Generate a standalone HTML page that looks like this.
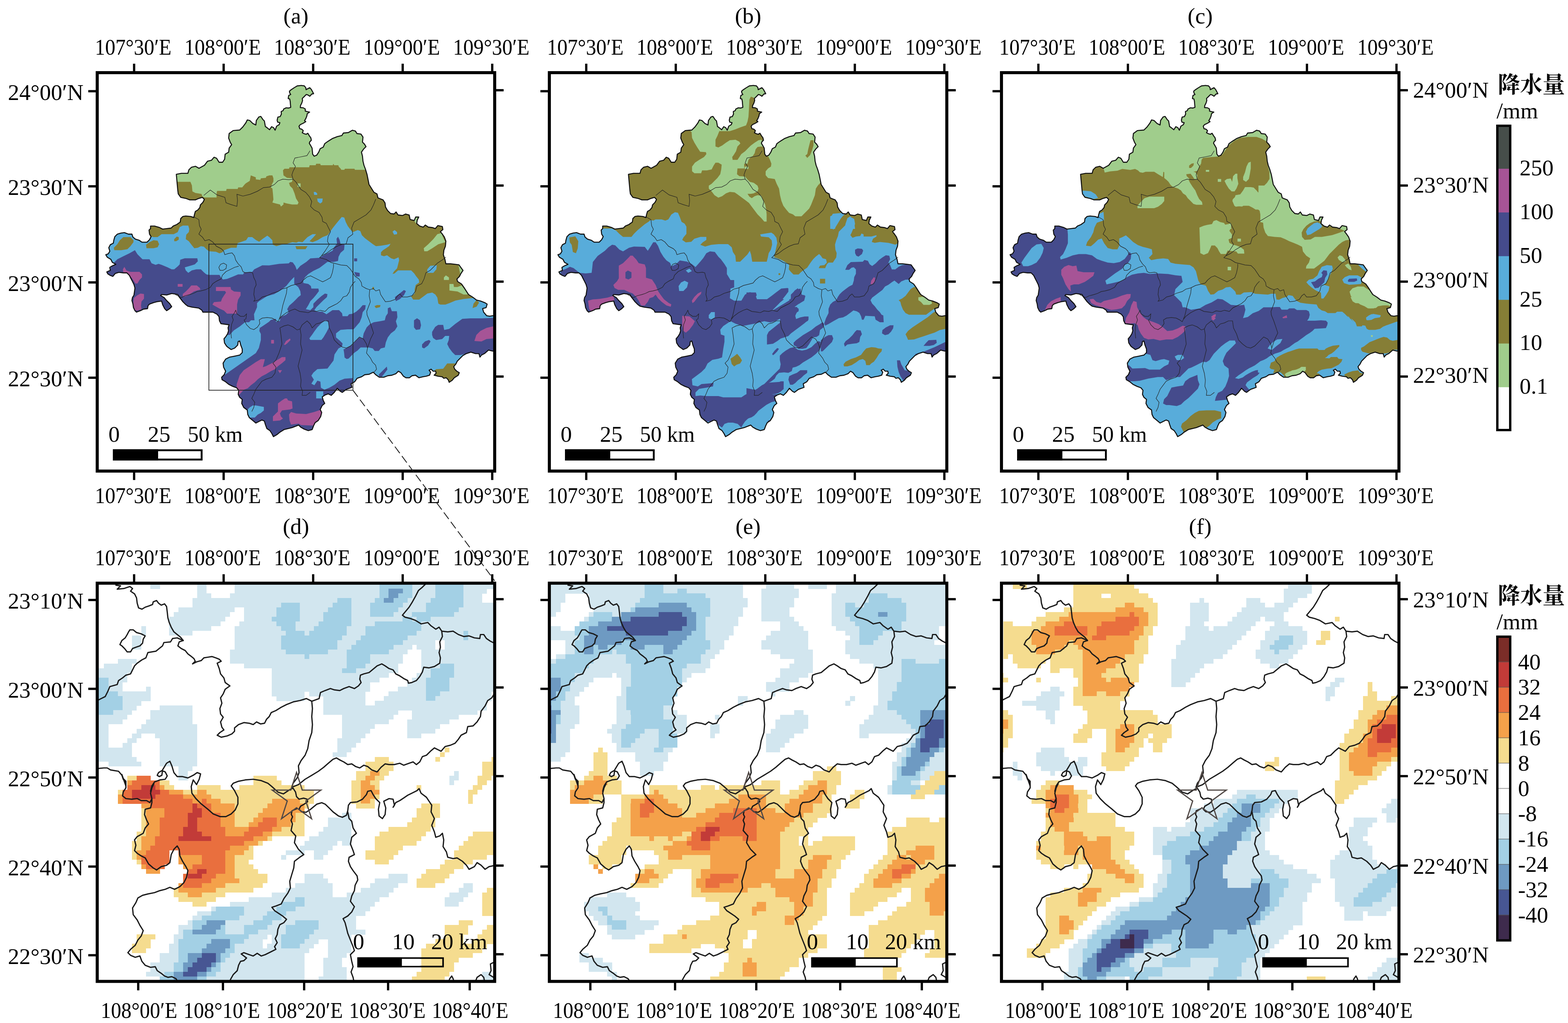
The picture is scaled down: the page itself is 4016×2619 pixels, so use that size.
<!DOCTYPE html><html><head><meta charset="utf-8"><title>fig</title><style>html,body{margin:0;padding:0;background:#fff}</style></head><body><svg width="4016" height="2619" viewBox="0 0 4016 2619" style="display:block;font-family:'Liberation Serif',serif;font-size:58px" fill="#000">
<style>.a{stroke:#D2E6EF}.b{stroke:#A3D0E5}.c{stroke:#6E9AC2}.d{stroke:#475693}.e{stroke:#3E2B4D}.f{stroke:#F5DC8F}.g{stroke:#F4A14A}.h{stroke:#E96F3E}.i{stroke:#C23B38}</style>
<rect width="4016" height="2619" fill="#fff"/>
<defs>
<path id="o" transform="scale(.1)" d="M2062,3000 2075,3103 2139,3193 2268,3219 2371,3258 2513,3258 2603,3219 2693,3193 2745,3245 2706,3322 2642,3387 2629,3451 2577,3515 2513,3554 2487,3644 2474,3709 2397,3683 2268,3670 2191,3683 2139,3735 2126,3825 2036,3889 1946,3928 1894,3979 1778,3992 1675,4005 1598,3966 1469,3928 1366,3928 1366,3992 1327,4031 1340,4134 1379,4198 1340,4276 1276,4340 1147,4340 1070,4289 979,4263 915,4211 889,4134 799,4134 696,4095 606,4108 515,4134 451,4198 425,4289 412,4366 335,4405 296,4482 322,4572 284,4637 219,4662 258,4727 348,4778 387,4856 477,4907 387,4946 322,4985 335,5062 245,5101 271,5152 335,5191 399,5216 464,5139 554,5113 670,5126 760,5126 825,5191 863,5268 902,5345 941,5423 966,5513 954,5603 941,5693 902,5758 889,5835 915,5925 928,6015 966,6093 1005,6131 1108,6093 1186,6054 1289,6041 1302,5964 1340,5925 1443,5887 1546,5861 1649,5848 1675,5938 1727,6041 1778,6093 1856,6041 1907,5990 1856,5912 1778,5835 1714,5758 1624,5706 1649,5680 1778,5693 1907,5655 1997,5668 2062,5680 2101,5745 2152,5809 2191,5861 2268,5938 2320,5977 2423,6003 2513,6015 2603,6028 2680,6080 2706,6131 2835,6131 2964,6131 3067,6183 3119,6247 3131,6351 3170,6428 3273,6441 3376,6454 3351,6531 3363,6608 3338,6686 3299,6750 3247,6814 3260,6918 3312,7000 3340,7025 3430,7089 3521,7051 3598,6973 3611,6883 3649,6870 3675,6973 3714,7076 3714,7166 3649,7231 3521,7257 3392,7282 3289,7334 3224,7437 3237,7540 3289,7643 3250,7734 3186,7798 3198,7862 3289,7914 3366,7978 3469,8030 3572,8069 3624,8133 3611,8236 3649,8313 3714,8365 3701,8468 3753,8571 3843,8636 3856,8752 3894,8829 3985,8906 4062,8971 4139,8932 4216,8893 4281,8919 4307,9009 4345,9112 4423,9164 4474,9241 4513,9319 4603,9267 4680,9203 4784,9138 4887,9112 4990,9087 5093,9048 5157,9022 5209,9074 5299,9125 5402,9164 5505,9138 5544,9035 5582,8958 5660,8906 5724,8803 5750,8700 5711,8623 5763,8520 5827,8468 5789,8391 5763,8301 5840,8249 5918,8223 5995,8262 6072,8185 6149,8081 6227,8159 6278,8185 6381,8107 6459,8081 6523,8056 6503,7965 6593,7914 6657,7824 6773,7785 6851,7734 6966,7721 7070,7669 7134,7734 7224,7798 7340,7798 7443,7759 7546,7746 7649,7708 7714,7643 7778,7682 7843,7772 7907,7811 7997,7811 8062,7759 8152,7746 8242,7811 8345,7785 8423,7772 8513,7746 8539,7669 8500,7618 8552,7592 8603,7643 8668,7643 8680,7695 8629,7746 8732,7772 8835,7785 8874,7824 8938,7811 8990,7862 9015,7927 9093,7875 9144,7811 9247,7746 9273,7682 9209,7643 9157,7592 9131,7527 9183,7463 9222,7386 9299,7308 9363,7244 9454,7192 9570,7154 9686,7192 9776,7192 9802,7282 9840,7231 9918,7192 10021,7102 10124,7128 10381,7128 10412,6222 10129,6222 10052,6235 9974,6222 9897,6131 9871,6041 9961,6015 9987,5925 9923,5887 9820,5848 9716,5822 9613,5745 9510,5680 9459,5603 9394,5500 9330,5410 9227,5345 9214,5281 9278,5216 9317,5139 9369,5062 9330,5010 9265,4920 9175,4907 9046,4894 8930,4894 8905,4778 8866,4662 8879,4546 8918,4443 8930,4314 8892,4211 8840,4134 8789,4070 8853,4018 8840,3941 8724,3915 8660,3992 8582,3966 8479,3954 8402,3902 8351,3954 8260,3928 8183,3863 8196,3773 8235,3696 8157,3696 8119,3786 8015,3760 7990,3644 7899,3619 7822,3657 7706,3644 7655,3567 7603,3619 7513,3606 7436,3528 7384,3438 7371,3335 7320,3258 7191,3206 7165,3103 7088,3064 6961,2861 6936,2732 6910,2603 6871,2474 6832,2371 6807,2268 6794,2139 6768,2036 6820,1959 6884,1894 6845,1830 6794,1778 6807,1649 6755,1572 6652,1559 6613,1495 6536,1474 6433,1534 6304,1546 6265,1611 6149,1637 6021,1688 5918,1753 5827,1817 5789,1907 5711,1946 5673,2036 5621,2113 5557,2139 5518,2088 5503,1931 5471,1873 5432,1809 5445,1770 5484,1731 5471,1667 5432,1615 5394,1551 5355,1577 5304,1564 5252,1538 5278,1486 5239,1448 5188,1435 5168,1370 5201,1332 5278,1293 5342,1254 5310,1229 5342,1177 5368,1113 5381,1048 5439,1010 5381,997 5329,984 5329,932 5278,900 5201,894 5207,842 5239,778 5259,713 5252,662 5304,610 5355,559 5394,571 5445,604 5497,546 5542,539 5516,488 5484,430 5445,385 5394,410 5349,436 5342,385 5304,339 5226,327 5123,339 5046,385 4969,436 4923,475 4930,520 4956,559 4904,584 4891,662 4930,675 4943,739 4949,816 4956,887 4904,906 4840,900 4775,932 4762,971 4711,997 4717,1061 4685,1126 4627,1138 4608,1216 4621,1267 4679,1280 4659,1332 4595,1370 4556,1474 4518,1409 4466,1383 4414,1461 4350,1409 4307,1379 4281,1237 4242,1198 4191,1121 4139,1134 4075,1224 4062,1340 3985,1302 3907,1224 3843,1211 3804,1289 3727,1392 3649,1469 3482,1482 3379,1559 3366,1675 3405,1778 3443,1843 3379,1933 3366,2036 3276,2088 3263,2216 3211,2294 3121,2294 3057,2191 2992,2165 2928,2242 2825,2268 2747,2371 2606,2448 2515,2397 2412,2423 2348,2487 2322,2577 2155,2577 2026,2603Z"/>
<clipPath id="ol"><use href="#o"/></clipPath>
<g id="ct" transform="scale(.1)" fill="none" stroke="#222" stroke-width="12">
<path d="M2727,3144 2897,3005 3067,3129 3268,3191 3299,3330 3423,3376 3578,3423 3593,3268 3578,3114 3732,3160 3918,3114 4103,3036 4258,2943 4413,2928 4536,2866 4629,2773 4753,2727 4908,2742 5016,2727 5093,2804 5155,2897 5217,2990 5341,3067 5433,3175 5495,3299 5464,3423 5557,3516 5681,3578 5758,3701 5774,3810 5867,3856 5928,3980 5975,4072 5913,4196 5897,4320 5944,4397 5836,4567 5743,4691 5696,4738 5867,4784 5990,4861 6114,4892 6238,4923 6392,4939 6485,5031 6547,5124 6609,5217 6702,5279 6764,5372 6779,5464 6887,5526 6980,5557 7073,5526 7135,5588 7228,5557 7259,5681 7320,5774 7382,5867 7506,5851 7630,5805 7692,5712 7753,5665 7815,5743 7939,5743 8063,5712 8156,5588 8186,5464 8310,5403 8372,5279 8418,5124 8527,5062 8620,4970 8712,4877 8852,4784 8929,4722"/>
<path d="M5449,2000 5372,2124 5217,2155 5062,2186 5016,2309 5078,2402 5016,2526 4985,2619 5016,2727"/>
<path d="M5743,4691 5867,4629 5990,4536 6145,4444 6269,4397 6377,4382 6423,4227 6547,4134 6516,3980 6578,3825 6733,3732 6887,3639 7011,3516 7073,3392 7135,3237"/>
<path d="M2464,3686 2603,3763 2619,3918 2665,4011 2603,4134 2696,4212 2758,4304 2866,4274 2959,4335 3052,4444 3175,4506 3237,4567 3268,4660 3361,4629 3454,4614 3516,4691 3547,4799 3608,4892 3686,4970 3732,5093 3794,5124 3918,5109 3980,5124 4011,5248 4057,5341 4072,5433 4026,5526 4011,5681 4042,5805 4011,5851 4134,5820 4227,5743 4351,5712 4475,5650 4629,5604 4722,5542 4846,5511 4970,5449 5093,5418 5217,5387 5279,5310 5372,5232 5464,5202 5557,5248 5681,5310 5774,5356 5867,5310 5975,5248 6021,5124 6052,4970 6052,4892"/>
<path d="M3624,4954 3516,4985 3392,5047 3299,5093 3206,5186 3175,5279 3052,5341 2959,5403 2897,5495 2773,5557 2650,5588 2557,5604 2464,5650 2371,5681 2247,5712 2155,5758 2062,5712 2000,5681"/>
<path d="M3114,4985 3160,4908 3237,4877 3315,4923 3299,5016 3222,5062 3144,5062 3114,4985"/>
<path d="M4861,5511 4846,5650 4799,5805 4753,5959 4722,6114 4691,6238 4660,6300"/>
<path d="M3438,6801 3423,6640 3438,6454 3485,6331 3454,6238 3516,6145 3547,6083 3578,6176 3670,6238 3763,6238 3825,6176 3810,6300 3763,6331 3825,6454 3918,6547 4011,6578 4103,6516 4165,6423 4150,6331 4227,6284 4351,6269 4475,6284 4567,6331 4629,6377 4660,6315 4722,6238 4846,6145 4970,6083 5062,6052 5186,6114 5310,6129 5403,6145 5495,6099 5619,6114 5712,6083 5836,6114 5928,6021 6052,5959 6145,5913 6238,5836 6300,5743 6392,5712 6454,5619 6485,5495 6547,5403 6609,5341"/>
<path d="M6980,5557 6965,5712 6996,5867 6949,5990 6903,6114 6912,6201"/>
<path d="M3959,8674 4010,8571 4036,8442 3959,8339 4010,8236 4062,8107 4139,8004 4216,7901 4320,7849 4474,7798 4552,7695 4577,7540 4500,7437 4577,7360 4655,7179 4732,6947 4706,6715 4680,6535 4784,6484 4887,6458 5015,6509 5119,6587 5196,6561 5247,6458 5376,6355 5454,6432 5505,6535 5608,6432 5711,6406 5814,6355 5918,6355 5943,6535 6021,6690 6072,6844 6175,6947 6278,7025 6381,7051 6485,6999 6588,6896 6716,6767 6820,6819 6897,6947 6923,7051"/>
<path d="M5196,6561 5222,6715 5209,6947 5247,7102 5196,7308 5144,7514 5196,7695 5222,7875 5209,8030 5260,8159 5247,8262 5351,8262 5454,8185"/>
<path d="M6910,6200 6974,6355 7026,6509 7077,6664 7000,6819 6923,7051 6897,7179 7000,7308 7052,7411 7129,7489 7155,7592 7090,7669"/>
</g>
<g id="bd" transform="scale(.1)" fill="none" stroke="#1a1a1a" stroke-width="32" stroke-linejoin="round" stroke-linecap="round">
<path d="M478,51 598,68 512,154 683,137 837,85 905,137 854,205 956,273 1007,376 1024,512 1059,632 1144,666 1229,615 1332,581 1417,546 1434,478 1520,444 1571,512 1639,563 1725,529 1776,598 1793,734 1810,888 1844,1007 1895,1127 1964,1246 2049,1315 2134,1383 2203,1468 2100,1503 2066,1605 2151,1673 2254,1725 2322,1810 2390,1861 2476,1929 2510,1998 2442,2066 2544,2015 2664,1981 2732,1912 2834,1895 2937,1878 3039,1912 3125,1947 3176,1998 3073,2049 3125,2186 3159,2322 3244,2425 3278,2544 3398,2630 3278,2715 3227,2834 3159,2937 3193,3073 3142,3210 3159,3347 3227,3432 3159,3552 3193,3688 3244,3756 3142,3825 3073,3893 3176,3944 3330,3910 3449,3859 3517,3791 3517,3705 3620,3620 3756,3569 3893,3586 3995,3620 4081,3552 4183,3603 4286,3586 4337,3483 4405,3415 4457,3312 4576,3261 4713,3176 4849,3108 5020,3039 5191,3005 5358,2954 5495,3022"/>
<path d="M2203,1468 2049,1400 1929,1417 1878,1503 1707,1520 1673,1605 1588,1673 1503,1742 1298,1776 1246,1912 1144,1964 1024,2049 956,2117 905,2220 854,2322 734,2356 649,2425 546,2493 512,2595 324,2647 273,2766 205,2903 102,2954 00,3005"/>
<path d="M837,1195 922,1195 1007,1264 1127,1298 1229,1349 1178,1434 1161,1537 1093,1605 990,1639 905,1673 854,1759 768,1759 700,1673 632,1605 581,1571 632,1468 717,1400 768,1315 803,1246 837,1195"/>
<path d="M00,4747 171,4730 256,4730 341,4781 444,4798 546,4815 632,4918 666,5020 717,5088 734,5191 632,4900 666,5002 734,5071 734,5241 666,5344 649,5446 734,5515 888,5532 1024,5515 1127,5566 1264,5566 1349,5617 1400,5515 1366,5378 1400,5241 1451,5139 1400,5241 1366,5378 1400,5515 1400,5617 1366,5754 1229,5788 1212,5924 1264,6061 1315,6164 1229,6266 1178,6403 1024,6488 956,6573 990,6710 956,6847 1024,6915 1127,6983 1229,7034 1315,7188 1434,7290 1520,7342 1639,7256 1776,7222 1861,7154 1895,6949 1964,6812 2049,6727 2100,6812 2117,6983 2186,7120 2271,7256 2322,7359 2288,7530 2220,7666 2117,7769 1981,7837 1861,7786 1742,7837 1605,7871 1468,7922 1298,7956 1161,7991 1042,8059 990,8178 905,8315 922,8486 1024,8622 1093,8759 1178,8895 1127,9032 1042,9135 973,9271 854,9374 785,9459 854,9527 973,9578 1093,9544 1144,9681 1229,9783 1366,9835 1486,9818 1537,9920 1639,9988 1725,10057 1810,10091 1912,10074 2015,10125 2083,10227"/>
<path d="M1366,5327 1400,5191 1468,5088 1605,5037 1742,5020 1793,4935 1742,4832 1656,4798 1571,4849 1537,4918 1588,4952 1656,4918 1673,4781 1776,4610 1861,4559 1912,4678 1964,4849 2049,4952 2186,4952 2322,4986 2459,4918 2561,4849 2647,4883 2612,5020 2544,5157 2459,5037 2408,5207 2425,5378 2527,5515 2664,5651 2834,5788 2971,5907 3142,5976 3295,5976 3432,5907 3534,5805 3603,5651 3603,5481 3517,5310 3432,5190 3483,5122 3620,5071 3791,5037 3995,5020 4200,5054 4371,5122 4474,5207 4629,5349 4770,5394 4912,5298 5015,5246 5080,5349 5105,5465 5170,5530 5286,5504 5376,5530 5389,5594 5299,5659 5208,5710 5170,5788 5234,5852 5350,5865 5466,5788 5621,5659 5750,5620 5840,5659 5939,5754 6041,5856 6178,5959 6280,5993 6383,5942 6417,5822 6434,5685 6485,5617 6656,5600 6792,5532 6895,5412 6929,5327 7014,5310 7066,5412 7134,5515 7236,5617 7202,5788 7219,5959 7305,6027 7373,5924 7390,5754 7339,5583 7475,5515 7578,5532 7612,5685 7578,5737 7646,5617 7749,5566 7851,5498 7953,5429 8090,5361 8192,5310 8244,5259 8295,5378 8432,5481 8500,5583 8568,5685 8551,5856 8636,6027 8568,6198 8636,6368 8671,6505 8773,6471 8841,6403 8875,6573 8858,6744 8944,6881 8978,7017 9115,7051 9217,7034 9354,7120 9456,7222 9524,7325 9661,7256 9729,7154 9832,7222 9934,7325 10037,7256 10207,7222"/>
<path d="M4982,5225 5017,5122 5119,4986 5170,4849 5153,4678 5221,4542 5324,4405 5392,4235 5426,4030 5495,3825 5512,3620 5495,3415 5512,3210 5495,3022 5683,2954 5717,2800 5836,2749 5973,2698 6075,2732 6212,2749 6314,2698 6451,2647 6587,2698 6690,2630 6758,2544 6724,2459 6741,2356 6827,2322 6963,2288 7066,2203 7168,2117 7288,2066 7373,2117 7475,2186 7578,2220 7646,2322 7749,2373 7851,2442 7953,2493 7971,2561 8056,2544 8175,2493 8261,2390 8329,2271 8363,2151 8500,2168 8636,2134 8773,2049 8790,1912 8756,1776 8790,1639 8773,1503 8841,1366 8824,1229"/>
<path d="M8432,00 8329,102 8227,188 8158,324 8073,478 7988,615 7902,717 7817,820 7885,871 8022,905 8158,956 8295,1042 8466,1007 8551,1093 8671,1178 8756,1127 8824,1229 8978,1246 9115,1229 9251,1315 9388,1366 9524,1349 9661,1400 9798,1417 9815,1315 9900,1315 9968,1417 10071,1486 10207,1554"/>
<path d="M4982,5225 5153,5157 5324,5020 5495,4918 5665,4815 5802,4713 5939,4593 6041,4508 6126,4474 6212,4525 6314,4576 6417,4644 6519,4627 6622,4696 6724,4730 6827,4661 6929,4696 7031,4781 7168,4832 7270,4713 7373,4627 7475,4644 7612,4644 7749,4610 7851,4661 7988,4610 8090,4576 8175,4644 8261,4576 8329,4439 8432,4405 8534,4303 8636,4217 8739,4269 8807,4303 8910,4183 9046,4149 9166,4098 9251,3995 9319,3893 9456,3825 9490,3671 9627,3654 9729,3552 9815,3415 9832,3278 9934,3142 10002,3005 10105,2937 10207,2766"/>
<path d="M5105,5775 4989,5826 4970,5916 5002,5981 4964,6071 5000,6164 4965,6334 5085,6471 5051,6642 5153,6812 5290,6949 5187,7017 5051,7120 5034,7290 4982,7461 4931,7632 4948,7803 4880,7939 4781,8076 4713,8212 4576,8264 4474,8298 4542,8383 4644,8452 4747,8520 4849,8605 4781,8691 4678,8742 4627,8861 4610,8998 4559,9100 4610,9203 4542,9305 4576,9374 4439,9442 4303,9510 4200,9544 4098,9476 3995,9544 3893,9510 3756,9459 3688,9493 3825,9596 3756,9664 3671,9681 3620,9783 3586,9920 3483,10022 3415,10142 3381,10261"/>
<path d="M6417,5856 6451,6027 6519,6095 6553,6266 6639,6403 6519,6505 6485,6676 6553,6847 6587,6949 6451,7017 6434,7120 6485,7256 6553,7359 6656,7495 6673,7598 6605,7734 6587,7871 6519,8008 6485,8144 6587,8281 6519,8417 6417,8520 6297,8588 6348,8691 6383,8827 6417,8964 6485,9135 6553,9305 6587,9408 6485,9510 6519,9681 6553,9818 6502,9954 6553,10091 6587,10261"/>
<path d="M8978,10261 9029,10125 9080,10057 9115,10125 9149,10261"/>
<path d="M9661,10261 9729,10091 9832,10022 9900,10091 9934,10261"/>
<path d="M10207,9681 10071,9749 10088,9920 10037,10022 10207,10125"/>
</g>
</defs>
<g clip-path="url(#cp0)">
<clipPath id="cp0"><rect x="249" y="186" width="1018" height="1020"/></clipPath>
<g transform="translate(249,186)">
<g clip-path="url(#ol)">
<rect x="0" y="0" width="1018" height="1020" fill="#58ACDA"/>
<g transform="scale(.1)">
<path d="M335,5036 387,4907 515,4778 670,4701 825,4624 966,4546 1031,4649 1134,4753 1160,4778 1340,4778 1392,4881 1495,4920 1572,4894 1649,4920 1804,4985 1907,5036 1972,5036 2062,4959 2113,4907 2126,4791 2242,4753 2564,4753 2577,4830 2500,4907 2423,4933 2242,4985 2268,5062 2332,5126 2423,5062 2539,5036 2655,5036 2732,5113 2796,5165 2861,5178 3131,5178 3170,5242 3222,5294 3325,5281 3454,5229 3608,5165 3737,5165 3763,5113 3969,5101 4021,5036 4124,4985 4227,4933 4402,4935 4660,4896 4905,4883 4943,4844 5008,4857 5072,4947 5111,5051 5201,4947 5356,4844 5459,4754 5691,4741 5871,4638 6026,4561 6077,4458 6142,4380 6129,4252 6168,4200 6206,4277 6232,4380 6335,4406 6322,4535 6232,4612 6180,4715 6168,4819 6052,4844 5897,4844 5794,4922 5691,4999 5536,5076 5407,5154 5330,5231 5278,5308 5278,5386 5407,5411 5472,5463 5485,5527 5665,5527 5678,5592 5601,5695 5536,5772 5459,5849 5407,5953 5343,6056 5459,6081 5536,6004 5536,5914 5639,5811 5742,5721 5832,5656 5897,5669 5884,5746 5794,5824 5691,5927 5613,6004 5562,6081 5639,6120 5768,6120 5871,6185 5948,6133 6026,6081 6193,6081 6271,6159 6284,6236 6412,6236 6451,6185 6541,6172 6631,6120 6722,6043 6799,5953 6876,5953 6863,6056 6799,6133 6773,6262 6722,6391 6631,6494 6567,6571 6554,6777 6541,6958 6631,6855 6709,6777 6799,6803 6825,6674 6902,6520 6979,6442 7082,6391 7237,6365 7366,6339 7392,6236 7443,6159 7443,6030 7508,6004 7546,6107 7675,6107 7688,6262 7649,6365 7688,6494 7624,6597 7521,6674 7443,6777 7392,6906 7366,7035 7263,7061 7211,7125 7108,7125 7057,7061 6954,7035 6851,7035 6747,7035 6670,7112 6593,7164 6515,7241 6438,7319 6387,7331 6335,7293 6322,7164 6309,7087 6271,7009 6180,7061 6077,7215 6052,7370 5974,7473 5897,7576 5639,7589 5536,7679 5485,7757 5549,7860 5485,7963 5562,8002 5639,7886 5716,7911 5729,8066 5820,8118 5948,8066 6077,7989 6206,7886 6335,7834 6541,7821 6554,7937 6554,8118 6554,8581 5000,11000 -1000,11000 -1000,3800Z" fill="#454B8C"/>
<path d="M5046,5231 4943,5334 4840,5463 4711,5566 4531,5669 4351,5721 4144,5849 4093,5901 4093,6004 4015,6185 4028,6339 3938,6339 3887,6391 3784,6391 3655,6494 3500,6597 3392,6715 3031,6715 3031,7746 3289,7721 3546,7540 3804,7360 4062,7179 4139,7051 4191,6844 4191,6690 4152,6612 4165,6535 4242,6484 4397,6380 4448,6329 4577,6303 4577,6380 4680,6355 4693,6252 4835,6200 4905,6133 4866,6056 4918,5965 5021,5875 5072,5824 5149,5746 5214,5695 5201,5592 5149,5489 5046,5411Z" fill="#58ACDA"/>
<path d="M5845,6339 5923,6391 5936,6520 5871,6648 5794,6777 5742,6842 5459,6842 5433,6803 5510,6700 5562,6623 5639,6520 5742,6416Z" fill="#58ACDA"/>
<path d="M6232,6584 6412,6571 6567,6571 6554,6777 6541,6958 6412,7035 6309,7087 6271,7009 6284,6932 6206,6855 6116,6777 6116,6674Z" fill="#58ACDA"/>
<path d="M3843,8636 3907,8571 3985,8520 4062,8520 4268,8558 4268,8648 4191,8713 4113,8752 4036,8829 3894,8829 3856,8752Z" fill="#58ACDA"/>
<path d="M5608,8159 5789,8159 5789,8339 5608,8339Z" fill="#58ACDA"/>
<path d="M6580,4754 6657,4754 6657,4831 6580,4831Z" fill="#454B8C"/>
<path d="M6580,5102 6722,5128 6722,5218 6631,5218Z" fill="#454B8C"/>
<path d="M7624,5746 7727,5669 7856,5566 7907,5592 7856,5695 7753,5798 7649,5849Z" fill="#454B8C"/>
<path d="M8320,6958 8397,6880 8500,6842 8539,6880 8474,6984 8371,7061 8320,7035Z" fill="#454B8C"/>
<path d="M7211,7731 7314,7628 7418,7525 7430,7602 7353,7705 7289,7782 7224,7782Z" fill="#454B8C"/>
<path d="M8113,6339 8191,6288 8268,6339 8294,6468 8268,6571 8165,6584 8113,6520Z" fill="#454B8C"/>
<path d="M8577,6638 8655,6509 8732,6458 8861,6458 8887,6587 9015,6561 9170,6432 9351,6303 9557,6290 9866,6290 10124,6277 10381,6277 10381,7231 10021,7102 9918,7192 9802,7231 9686,7192 9570,7154 9454,7192 9299,7231 9170,7231 9093,7154 9015,7051 8964,6947 9003,6844 9015,6741 8912,6741 8835,6819 8680,6844 8603,6793 8577,6715Z" fill="#454B8C"/>
<path d="M1379,4198 1443,4211 1546,4211 1649,4134 1804,4134 1959,4134 2062,4082 2113,3954 2191,3915 2332,3915 2358,4005 2345,4082 2281,4147 2268,4263 2345,4314 2423,4418 2487,4495 2577,4482 2655,4443 2732,4456 2796,4521 2861,4572 3041,4585 3131,4624 3209,4598 3247,4546 3351,4508 3428,4482 3570,4482 3595,4366 3814,4289 3866,4211 3969,4211 4072,4289 4149,4327 4227,4263 4356,4173 4407,4211 4485,4289 4497,4405 4588,4443 4716,4405 4820,4392 5000,4340 5103,4353 5155,4327 5258,4340 5387,4211 5515,4134 5606,4134 5541,4211 5438,4314 5515,4340 5644,4289 5773,4211 5902,4160 6031,3979 6134,3851 6263,3696 6327,3709 6366,3825 6418,3928 6495,4031 6546,4082 6675,4031 6740,4057 6778,4160 6856,4237 6959,4314 7062,4392 7139,4443 7268,4430 7423,4405 7513,4379 7474,4443 7397,4495 7320,4546 7268,4598 7268,4675 7345,4701 7423,4675 7526,4753 7603,4778 7719,4727 7732,4804 7706,4907 7680,5010 7603,5088 7564,5152 7616,5139 7706,5062 7835,5062 8041,5062 8119,5139 8170,5216 8235,5294 8247,5371 8157,5436 8131,5539 8131,5655 8041,5732 8093,5809 8247,5809 8351,5732 8454,5655 8582,5629 8660,5680 8711,5758 8737,5912 8789,5938 8918,5938 9021,5899 9175,5835 9381,5796 9613,5771 10155,5771 11000,3000 11000,-1000 -1000,-1000 -1000,3600Z" fill="#867E36"/>
<path d="M425,4482 515,4392 580,4289 670,4211 851,4211 928,4289 928,4340 851,4443 773,4521 619,4546 438,4546Z" fill="#867E36"/>
<path d="M1250,4405 1340,4340 1443,4289 1546,4302 1585,4392 1546,4469 1443,4495 1263,4495Z" fill="#867E36"/>
<path d="M1972,4263 2036,4198 2088,4211 2088,4276 2023,4314 1972,4314Z" fill="#867E36"/>
<path d="M5077,4443 5387,4443 5335,4521 5103,4521Z" fill="#867E36"/>
<path d="M9716,5822 9781,5887 9716,5990 9613,6028 9639,5912Z" fill="#867E36"/>
<path d="M7101,5977 7165,5951 7255,5951 7242,6003 7139,6028Z" fill="#867E36"/>
<path d="M7049,5487 7088,5487 7088,5552 7049,5552Z" fill="#867E36"/>
<path d="M8448,7772 8680,7592 8861,7579 8964,7445 9196,7445 9351,7746 9041,7953 8835,7824Z" fill="#867E36"/>
<path d="M1871,2796 2077,2796 2387,2796 2425,2887 2438,3041 2515,3080 2670,3106 2696,3170 2747,3196 3057,3196 3057,3093 3070,3028 3302,3028 3314,2977 3598,2977 3611,2938 3714,2938 3778,2861 3804,2835 3907,2771 3933,2629 4062,2680 4062,2732 4178,2745 4191,2706 4320,2693 4332,2655 4410,2629 4487,2629 4513,2706 4513,2784 4474,2861 4448,2938 4487,2964 4500,3093 4513,3247 4487,3325 4577,3351 4680,3376 4706,3428 4771,3376 4771,3325 4861,3351 4990,3376 5131,3376 5157,3325 5093,3222 5054,3093 5003,2964 4938,2899 4912,2822 4990,2796 5003,2706 4861,2693 4771,2629 4758,2500 4796,2461 4912,2461 4925,2423 5080,2423 5428,2423 5441,2371 5595,2371 5608,2332 5711,2332 5724,2371 6034,2371 6046,2332 6072,2371 6175,2371 6188,2410 6227,2448 6253,2487 6330,2487 6343,2461 6588,2461 6601,2487 6845,2487 7412,2487 11000,-1000 -1000,-1000Z" fill="#A0CD8C"/>
<path d="M8363,4495 8479,4392 8608,4263 8711,4134 8814,4108 8866,4237 8918,4340 8737,4392 8582,4495 8454,4572 8376,4572Z" fill="#A0CD8C"/>
<path d="M9021,5410 9124,5410 9137,5487 9227,5487 9330,5448 9433,5577 9497,5680 9381,5680 9227,5603 9021,5577Z" fill="#A0CD8C"/>
<path d="M8879,5242 8930,5191 9008,5242 9008,5307 8879,5307Z" fill="#A0CD8C"/>
<path d="M8015,3644 8247,3670 8247,3876 8157,3851Z" fill="#A0CD8C"/>
<path d="M8905,4134 9021,4237 9021,4405 8930,4405Z" fill="#A0CD8C"/>
<path d="M9253,4933 9420,5036 9381,5191 9304,5191Z" fill="#A0CD8C"/>
<path d="M5131,2835 5209,2835 5209,2925 5131,2925Z" fill="#A0CD8C"/>
<path d="M5544,3054 5595,3054 5634,3093 5634,3131 5557,3131Z" fill="#58ACDA"/>
<path d="M5634,3222 5776,3222 5763,3312 5711,3351 5647,3299Z" fill="#58ACDA"/>
<path d="M7564,4070 7616,4031 7680,4082 7680,4134 7603,4147Z" fill="#58ACDA"/>
<path d="M8454,5036 8531,4946 8698,4933 8686,5036 8608,5126 8454,5126Z" fill="#58ACDA"/>
<path d="M657,5036 696,4972 747,5062 851,5101 1082,5101 1147,5165 1147,5242 1082,5307 1031,5397 979,5397 928,5320 876,5242 773,5216 760,5126 670,5126Z" fill="#A65496"/>
<path d="M2062,5410 2186,5410 2186,5479 2062,5479Z" fill="#A65496"/>
<path d="M2191,5668 2268,5603 2345,5526 2410,5448 2552,5448 2629,5513 2642,5552 2552,5577 2474,5603 2397,5655 2320,5706 2242,5732 2191,5732Z" fill="#A65496"/>
<path d="M3041,5487 3415,5487 3428,5552 3505,5603 3673,5616 3673,5706 3608,5809 3582,5938 3582,6170 3325,6170 3247,6093 3131,6041 3041,5990 2951,5938 2990,5874 3170,5861 3196,5784 3247,5706 3299,5629 3273,5590 3041,5590Z" fill="#A65496"/>
<path d="M941,5771 1018,5706 1108,5655 1198,5668 1198,5784 1134,5861 1121,5964 1134,6054 1031,6093 966,6080 928,5964 928,5861Z" fill="#A65496"/>
<path d="M4454,6845 4523,6845 4523,6930 4454,6930Z" fill="#A65496"/>
<path d="M3572,7978 3649,7746 3753,7618 3907,7514 4062,7411 4191,7334 4294,7334 4268,7437 4242,7540 4320,7514 4474,7437 4603,7360 4732,7282 4822,7282 4822,7360 4732,7437 4629,7514 4552,7592 4448,7643 4320,7721 4216,7772 4113,7849 4036,7927 3933,8004 3856,8081 3753,8120 3649,8236 3611,8236 3624,8133 3572,8069Z" fill="#A65496"/>
<path d="M4784,6960 4835,6870 4938,6806 4951,6844 4861,6935 4809,6973Z" fill="#A65496"/>
<path d="M4461,6844 4526,6844 4526,6935 4461,6935Z" fill="#A65496"/>
<path d="M4629,7618 4732,7618 4680,7695Z" fill="#A65496"/>
<path d="M4629,8468 4732,8391 4809,8339 4861,8339 4887,8391 4990,8416 5003,8597 4938,8623 4732,8648 4680,8726 4706,8803 4758,8855 4680,8906 4500,8919 4500,8803 4577,8726 4629,8674Z" fill="#A65496"/>
<path d="M4912,8752 4964,8687 5093,8726 5351,8739 5557,8687 5711,8636 5750,8700 5724,8803 5660,8906 5582,8958 5544,9035 5222,9022 5157,8984 4964,9009 4925,8906Z" fill="#A65496"/>
<path d="M9660,6870 9711,6715 9814,6612 9969,6535 10142,6496 10381,6496 10381,6793 10142,6806 9969,6819 9840,6883Z" fill="#A65496"/>
</g>
</g>
<use href="#ct"/>
<use href="#o" fill="none" stroke="#111" stroke-width="26" stroke-linejoin="round"/>
</g><rect x="535" y="625" width="369" height="374" fill="none" stroke="#222" stroke-width="1.8"/>
</g>
<rect x="249" y="186" width="1018" height="1020" fill="none" stroke="#000" stroke-width="7.8"/>
<rect x="340.6" y="163.1" width="5.8" height="20"/>
<text x="341.0" y="139.5" text-anchor="middle" textLength="196" lengthAdjust="spacingAndGlyphs">107°30′E</text>
<rect x="569.9" y="163.1" width="5.8" height="20"/>
<text x="570.3" y="139.5" text-anchor="middle" textLength="196" lengthAdjust="spacingAndGlyphs">108°00′E</text>
<rect x="799.2" y="163.1" width="5.8" height="20"/>
<text x="799.6" y="139.5" text-anchor="middle" textLength="196" lengthAdjust="spacingAndGlyphs">108°30′E</text>
<rect x="1028.5" y="163.1" width="5.8" height="20"/>
<text x="1028.9" y="139.5" text-anchor="middle" textLength="196" lengthAdjust="spacingAndGlyphs">109°00′E</text>
<rect x="1257.8" y="163.1" width="5.8" height="20"/>
<text x="1258.2" y="139.5" text-anchor="middle" textLength="196" lengthAdjust="spacingAndGlyphs">109°30′E</text>
<rect x="340.6" y="1208.9" width="5.8" height="20"/>
<text x="341.0" y="1288" text-anchor="middle" textLength="196" lengthAdjust="spacingAndGlyphs">107°30′E</text>
<rect x="569.9" y="1208.9" width="5.8" height="20"/>
<text x="570.3" y="1288" text-anchor="middle" textLength="196" lengthAdjust="spacingAndGlyphs">108°00′E</text>
<rect x="799.2" y="1208.9" width="5.8" height="20"/>
<text x="799.6" y="1288" text-anchor="middle" textLength="196" lengthAdjust="spacingAndGlyphs">108°30′E</text>
<rect x="1028.5" y="1208.9" width="5.8" height="20"/>
<text x="1028.9" y="1288" text-anchor="middle" textLength="196" lengthAdjust="spacingAndGlyphs">109°00′E</text>
<rect x="1257.8" y="1208.9" width="5.8" height="20"/>
<text x="1258.2" y="1288" text-anchor="middle" textLength="196" lengthAdjust="spacingAndGlyphs">109°30′E</text>
<rect x="226.1" y="230.6" width="20" height="5.8"/>
<rect x="1269.9" y="228.1" width="20" height="5.8"/>
<text x="214" y="255.5" text-anchor="end">24°00′N</text>
<rect x="226.1" y="474.1" width="20" height="5.8"/>
<rect x="1269.9" y="472.1" width="20" height="5.8"/>
<text x="214" y="499" text-anchor="end">23°30′N</text>
<rect x="226.1" y="720.1" width="20" height="5.8"/>
<rect x="1269.9" y="718.1" width="20" height="5.8"/>
<text x="214" y="745" text-anchor="end">23°00′N</text>
<rect x="226.1" y="964.1" width="20" height="5.8"/>
<rect x="1269.9" y="961.1" width="20" height="5.8"/>
<text x="214" y="989" text-anchor="end">22°30′N</text>
<text x="758.0" y="60" text-anchor="middle">(a)</text>
<rect x="291.4" y="1152.7" width="225" height="23.8" fill="#fff" stroke="#000" stroke-width="4.8"/>
<rect x="289" y="1150.3" width="116" height="28.6"/>
<text x="277.8" y="1131.4" text-anchor="start">0</text>
<text x="378.5" y="1131.4" text-anchor="start">25</text>
<text x="481" y="1131.4" textLength="140.5" lengthAdjust="spacingAndGlyphs">50 km</text>
<g clip-path="url(#cp1)">
<clipPath id="cp1"><rect x="1407" y="186" width="1018" height="1020"/></clipPath>
<g transform="translate(1407,186)">
<g clip-path="url(#ol)">
<rect x="0" y="0" width="1018" height="1020" fill="#58ACDA"/>
<g transform="scale(.1)">
<path d="M278,5157 309,5064 402,5033 526,4971 619,5002 773,5126 928,5141 1083,5126 1098,5002 1114,4847 1237,4693 1423,4560 1516,4467 1608,4405 1686,4421 1794,4529 1887,4575 2042,4482 2165,4452 2444,4461 2521,4560 2583,4467 2660,4343 2722,4343 2784,4436 2846,4591 2923,4714 3000,4807 3093,4869 3124,4962 3248,4900 3341,4807 3526,4838 3650,4900 3743,4977 3867,4838 3944,4745 4021,4622 4114,4575 4238,4591 4331,4714 4392,4776 4485,4900 4547,4999 4547,5157 4640,5311 4733,5311 4733,5497 4640,5528 4624,5775 4733,5837 4918,5837 5011,5683 5135,5621 5259,5652 5320,5806 5444,5837 5568,5806 5692,5714 5815,5621 5939,5528 6109,5513 6094,5621 5970,5744 5846,5837 5722,5930 5599,6023 5568,6116 5722,6085 5877,5992 6032,5899 6186,5806 6186,5683 6310,5559 6434,5528 6465,5683 6558,5714 6527,5837 6372,5930 6248,6023 6156,6116 6032,6208 5908,6301 5784,6363 5661,6394 5506,6363 5382,6394 5259,6425 5104,6456 4949,6487 4764,6425 4640,6363 4547,6425 4454,6487 4377,6580 4392,6703 4485,6734 4485,6889 4454,7075 4423,7291 4331,7322 4176,7353 4052,7446 3990,7570 3897,7662 3774,7755 3650,7848 3665,8003 3805,8033 3897,7972 4114,7956 4207,7941 4191,8033 4021,8064 3836,8095 3743,8188 3743,8281 3867,8265 4021,8281 4331,8281 4454,8312 4918,8312 5011,8250 5135,8188 5320,8095 5444,8003 5568,7941 5784,7925 6001,7910 6001,8003 5877,8064 5753,8157 5661,8219 5784,8250 5877,8312 5815,8405 5692,8436 5568,8497 5444,8590 5320,8683 5197,8776 5073,8869 5011,8931 4949,9023 4918,9085 4825,8992 4702,8961 4578,8961 4485,8992 4423,9085 4331,9023 4269,8931 3093,8931 3093,7384 2784,6147 928,6147 278,5528Z" fill="#454B8C"/>
<path d="M3310,5466 3372,5373 3464,5327 3557,5373 3526,5497 3433,5590 3325,5590Z" fill="#58ACDA"/>
<path d="M3495,5064 3588,5018 3650,5079 3557,5126Z" fill="#58ACDA"/>
<path d="M4083,6208 4145,6131 4238,6131 4238,6270 4145,6317 4083,6286Z" fill="#58ACDA"/>
<path d="M7830,4533 7896,4500 8006,4511 8038,4555 8006,4643 7918,4709 7863,4687 7830,4621Z" fill="#454B8C"/>
<path d="M7578,5048 7633,4928 7721,4851 8028,4840 8071,4796 8159,4818 8203,4906 8268,4949 8356,4884 8444,4796 8531,4730 8619,4676 8707,4687 8728,4774 8685,4862 8728,4928 8772,5037 8860,5037 8947,4971 9035,4928 9188,4906 9342,4917 9418,4928 9429,5037 9364,5147 9342,5256 9254,5300 9123,5300 9013,5344 8947,5409 8838,5322 8772,5366 8685,5431 8597,5475 8531,5563 8444,5628 8356,5694 8268,5760 8225,5826 8268,5913 8334,5979 8400,6067 8466,6132 8509,6198 8553,6216 8564,6391 8466,6391 8356,6325 8334,6237 8093,6226 8049,6325 8006,6325 7984,6237 7940,6150 7874,6110 7787,6088 7699,6154 7611,6220 7524,6264 7414,6286 7283,6358 7151,6435 7064,6478 7042,6413 7086,6286 7151,6154 7151,6045 7195,5935 7261,5869 7348,5826 7392,5738 7436,5672 7502,5607 7589,5541 7677,5475 7765,5431 7798,5322 7808,5234 7852,5147 7852,5037 7798,4982 7743,4993 7677,5048Z" fill="#454B8C"/>
<path d="M5180,5628 5290,5628 5311,5694 5279,5760 5333,5848 5509,5848 5618,5782 5728,5738 5815,5672 5903,5607 6012,5541 6122,5519 6122,5607 6056,5694 5969,5804 5881,5913 5771,6023 5684,6110 5509,6154 5377,6132 5268,6088 5180,6045 5049,6045 5049,5628Z" fill="#454B8C"/>
<path d="M6166,5826 6209,5716 6275,5585 6363,5519 6407,5585 6450,5694 6538,5694 6538,5760 6472,5848 6407,5913 6275,5913 6188,5902Z" fill="#454B8C"/>
<path d="M5903,6399 5925,6264 6012,6154 6122,6067 6209,6001 6341,6001 6385,6067 6341,6132 6297,6220 6319,6307 6429,6264 6538,6242 6637,6242 6626,6351 6538,6399 6407,6461 6056,6505Z" fill="#454B8C"/>
<path d="M5049,5800 6012,5800 5903,5888 5815,5975 5706,6085 5618,6172 5552,6260 5465,6348 5355,6391 5180,6413 5049,6413Z" fill="#454B8C"/>
<path d="M6144,5800 6516,5800 6407,5888 6275,5910 6166,5888Z" fill="#454B8C"/>
<path d="M5574,6720 5618,6632 5728,6545 5837,6457 5925,6391 5903,6282 5969,6172 6056,6085 6166,6019 6253,5997 6385,6041 6385,6107 6319,6150 6297,6238 6319,6326 6429,6282 6538,6249 6637,6249 6637,6326 6538,6413 6450,6479 6363,6545 6275,6610 6188,6676 6122,6742 6056,6764 5925,6808 5837,6873 5728,6939 5574,6961Z" fill="#454B8C"/>
<path d="M6253,6917 6319,6851 6407,6786 6494,6720 6604,6654 6713,6589 6823,6501 6932,6435 6998,6391 7042,6435 7020,6523 6932,6589 6910,6720 6845,6764 6757,6775 6713,6851 6648,6961 6582,7049 6494,7070 6385,7070 6319,7005 6264,6983Z" fill="#454B8C"/>
<path d="M5311,8209 5377,8100 5465,8012 5574,7903 5684,7793 5793,7684 5903,7574 5925,7465 5903,7355 5903,7246 5969,7180 6056,7114 6166,7049 6275,7027 6363,7092 6472,7114 6582,7092 6713,7027 6801,6939 6889,6873 6954,6895 6954,7027 6910,7114 6823,7202 6713,7289 6604,7355 6494,7421 6407,7487 6319,7530 6231,7552 6209,7640 6122,7684 6012,7673 5881,7684 5815,7749 5771,7837 5684,7903 5574,7968 5487,8034 5399,8122 5355,8209Z" fill="#454B8C"/>
<path d="M6954,7136 6954,6851 7064,6764 7151,6720 7239,6720 7272,6808 7239,6895 7151,6983 7064,7070 6998,7136Z" fill="#454B8C"/>
<path d="M6122,7859 6144,7771 6231,7728 6341,7684 6429,7618 6604,7618 6604,7684 6516,7749 6450,7815 6363,7881 6297,7947 6231,7990 6166,7990Z" fill="#454B8C"/>
<path d="M5530,8166 5618,8078 5728,8012 5837,7947 5925,7903 6001,7903 6001,8100 5925,8166 5859,8209 5750,8231 5618,8231Z" fill="#454B8C"/>
<path d="M5049,8078 5290,8122 5311,8209 5399,8275 5618,8253 5815,8231 5837,8297 5771,8363 5684,8428 5574,8494 5465,8538 5377,8626 5311,8713 5246,8779 5180,8823 5049,8867Z" fill="#454B8C"/>
<path d="M5706,7202 5771,7114 5837,7049 5881,7070 5837,7136 5771,7202 5728,7235Z" fill="#454B8C"/>
<path d="M5596,8910 5684,8888 5706,8954 5618,8976Z" fill="#454B8C"/>
<path d="M7546,6939 7589,6873 7677,6808 7765,6720 7830,6632 7874,6589 7973,6599 8006,6698 7962,6764 7940,6895 7874,6928 7765,6939 7633,6961 7568,7016Z" fill="#454B8C"/>
<path d="M8520,6676 8531,6589 8619,6523 8728,6468 8816,6468 8805,6545 8750,6632 8685,6698 8597,6720Z" fill="#454B8C"/>
<path d="M9583,6994 9648,6917 9714,6851 9911,6840 9922,6917 9846,6972 9736,6994Z" fill="#454B8C"/>
<path d="M9364,7311 9375,7202 9605,7136 9867,7027 10141,6895 10218,6895 10218,7224 9451,7333Z" fill="#454B8C"/>
<path d="M8904,7366 8980,7366 9013,7465 9101,7618 9232,7640 9254,7771 9188,7881 9079,7903 8991,7771 8947,7662 8915,7530Z" fill="#454B8C"/>
<path d="M1361,3989 1608,3989 1717,4051 1794,4128 1887,4206 2103,4206 2165,4128 2258,4036 2351,3958 2444,3881 2536,3819 2598,3773 2660,3788 2722,3757 2877,3757 2970,3788 3047,3757 3124,3633 3217,3572 3294,3587 3341,3695 3387,3819 3464,3865 3511,3943 3511,4128 3433,4221 3403,4283 3495,4345 3635,4329 3712,4252 3867,4206 4021,4206 4021,4283 3928,4345 3867,4407 3990,4453 4145,4407 4331,4391 4578,4391 4671,4469 4702,4592 4764,4685 4779,4840 4887,4840 4980,4747 5073,4654 5135,4561 5166,4654 5197,4840 5568,4840 5596,4730 5618,4621 5673,4533 5706,4402 5695,4292 5618,4216 5421,4194 5399,4139 5684,4095 5750,4139 5815,4227 5837,4358 5804,4511 5771,4665 5760,4730 5837,4752 5947,4796 6100,4884 6144,4928 6133,5037 6188,5103 6253,5168 6385,5168 6450,5103 6538,5037 6604,4993 6648,4928 6691,4862 6757,4774 6823,4709 6910,4643 6954,4687 6998,4752 7086,4774 7108,4862 7042,4928 6932,4939 6899,5004 7064,5004 7108,4906 7151,4862 7261,4862 7305,4796 7348,4730 7359,4621 7327,4533 7316,4402 7348,4292 7392,4183 7414,4073 7502,3986 7589,3898 7655,3745 7721,3701 7808,3745 7830,3876 7787,3986 7743,4095 7710,4161 7765,4227 7852,4194 7962,4183 7995,4117 8049,4139 8049,4194 8247,4194 8378,4161 8378,4194 8290,4249 8258,4336 8334,4358 8466,4336 8685,4358 8860,4402 8947,4358 9342,4314 11000,4000 11000,-1000 -1000,-1000 -1000,3300Z" fill="#867E36"/>
<path d="M510,4221 665,4190 742,4314 727,4500 681,4623 603,4592 572,4407 526,4345Z" fill="#867E36"/>
<path d="M7195,3723 7261,3613 7502,3591 7524,3657 7458,3745 7392,3854 7338,3942 7272,4019 7228,3964 7195,3854Z" fill="#58ACDA"/>
<path d="M6932,5278 7064,5278 7064,5398 6932,5398Z" fill="#867E36"/>
<path d="M5870,5136 5914,5136 5914,5179 5870,5179Z" fill="#867E36"/>
<path d="M8947,5826 9035,5782 9123,5716 9188,5628 9254,5541 9342,5486 9451,5519 10218,5848 10218,6023 9889,6034 9824,6067 9736,6132 9648,6198 9210,6198 9123,6154 9057,6067 9013,5957 8991,5869Z" fill="#867E36"/>
<path d="M9451,5749 9561,5738 9692,5793 9780,5837 9802,5913 9736,5946 9583,5946 9517,5869 9451,5826Z" fill="#A0CD8C"/>
<path d="M9123,6698 9188,6610 9298,6523 9429,6435 9561,6348 9692,6260 9824,6150 9933,6085 10141,6041 10218,6041 10218,6545 9999,6589 9867,6654 9736,6698 9605,6742 9473,6786 9342,6829 9188,6840 9156,6764Z" fill="#867E36"/>
<path d="M7535,7465 7589,7399 7721,7333 7852,7289 7984,7224 8049,7136 8115,7059 8247,7027 8356,7038 8422,7059 8520,7070 8509,7136 8444,7202 8378,7311 8312,7399 8247,7443 8203,7487 8115,7487 8093,7377 8028,7333 7940,7355 7852,7421 7743,7487 7633,7519 7546,7519Z" fill="#867E36"/>
<path d="M4640,7322 4733,7260 4810,7198 4887,7291 4934,7368 4887,7446 4795,7477 4733,7523 4671,7461Z" fill="#867E36"/>
<path d="M7193,3677 7316,3628 7463,3604 7561,3555 7561,3628 7463,3726 7389,3824 7340,3922 7316,4000 7193,4000Z" fill="#58ACDA"/>
<path d="M7634,3726 7707,3677 7805,3799 7830,4000 7561,4000 7585,3873Z" fill="#58ACDA"/>
<path d="M7218,3065 7279,3065 7279,3163 7218,3163Z" fill="#58ACDA"/>
<path d="M4916,298 5602,298 5602,543 5455,567 5357,616 5283,690 5234,641 5161,616 5124,690 5112,935 5100,1130 5075,1253 5038,1351 4892,1400 4769,1449 4622,1498 4353,1498 4304,1620 4255,1718 4255,1890 4328,1914 4426,1865 4524,1792 4622,1730 4769,1718 4867,1767 4892,1816 4818,1890 4781,2012 4720,2110 4683,2159 4696,2232 4818,2232 4867,2159 4916,2085 5014,2012 5087,1938 5161,1865 5259,1792 5357,1730 5430,1718 5455,1767 5504,1865 5528,1914 5430,1890 5332,1902 5283,1963 5259,2061 5210,2134 5161,2159 5100,2232 5075,2330 4990,2330 4990,2453 4818,2453 4806,2600 4867,2649 5014,2661 5063,2722 5136,2795 5234,2820 5332,2893 5357,2967 5332,3040 5234,3089 5161,3102 5075,3102 5124,3175 5185,3212 5259,3163 5332,3138 5430,3151 5479,3261 5528,3383 5553,3506 5565,3628 5565,3812 5504,3812 5430,3726 5332,3628 5259,3530 5185,3432 5112,3334 5014,3261 4916,3187 4818,3114 4745,3065 4622,3053 4524,3089 4426,3163 4328,3200 4230,3138 4157,3040 4084,2967 4084,2893 4157,2844 4230,2771 4304,2698 4377,2600 4402,2477 4414,2355 4328,2306 4255,2306 4206,2379 4157,2477 4035,2502 3912,2502 3888,2575 3716,2575 3655,2526 3655,2404 3729,2306 3839,2232 3961,2159 4022,2085 4010,2036 3863,2024 3790,1914 3716,1792 3655,1669 3643,1522 3545,1424 3667,1057 4157,935 4524,1302 4573,935 4867,445Z" fill="#A0CD8C"/>
<path d="M5614,2159 5651,2232 5687,2330 5675,2404 5602,2453 5540,2526 5540,2624 5602,2698 5773,2722 5822,2844 5883,2967 5908,3138 5944,3285 5993,3408 6067,3506 6140,3591 6238,3628 6300,3677 6459,3677 6508,3628 6581,3555 6655,3481 6704,3383 6752,3261 6801,3138 6826,2967 6875,2893 6948,2808 6997,2747 7120,2649 7120,1424 6483,1302 5749,1669 5504,1914Z" fill="#A0CD8C"/>
<path d="M6691,1730 6765,1730 6765,1865 6728,1987 6679,2110 6606,2183 6557,2122 6606,2085 6630,1963 6667,1816Z" fill="#867E36"/>
<path d="M5002,2404 5100,2404 5100,2465 5002,2465Z" fill="#A0CD8C"/>
<path d="M1779,5001 1856,4933 1980,4840 2072,4685 2134,4685 2227,4809 2320,4933 2444,5001 2444,5149 1779,5149Z" fill="#A65496"/>
<path d="M1639,5435 1732,5342 1779,5265 1779,4940 1887,4878 1980,4786 2072,4693 2134,4687 2227,4786 2289,4878 2444,4909 2475,5002 2475,5250 2629,5296 2722,5435 2784,5590 2846,5683 2939,5806 3062,5899 3124,5930 3109,5992 3000,5961 2877,5868 2784,5775 2722,5683 2660,5744 2567,5775 2521,5868 2444,5961 2351,5961 2289,5837 2227,5744 2134,5652 2042,5621 1918,5559 1763,5559 1670,5513Z" fill="#A65496"/>
<path d="M990,5837 1114,5806 1299,5791 1485,5760 1639,5714 1670,5822 1516,5868 1392,5930 1361,6023 1237,6085 1083,6116 1021,6054Z" fill="#A65496"/>
<path d="M3403,6224 3588,6239 3727,6363 3681,6456 3588,6580 3495,6657 3433,6611 3403,6456Z" fill="#A65496"/>
<path d="M3650,5837 3712,5744 3805,5652 3897,5605 3882,5667 3805,5744 3712,5868 3665,5899Z" fill="#A65496"/>
<path d="M1949,5110 2011,5064 2103,5110 2103,5250 2026,5296 1949,5265Z" fill="#454B8C"/>
<path d="M8225,5409 8247,5322 8312,5234 8345,5256 8334,5344 8268,5420Z" fill="#A65496"/>
</g>
</g>
<use href="#ct"/>
<use href="#o" fill="none" stroke="#111" stroke-width="26" stroke-linejoin="round"/>
</g>
</g>
<rect x="1407" y="186" width="1018" height="1020" fill="none" stroke="#000" stroke-width="7.8"/>
<rect x="1498.6" y="163.1" width="5.8" height="20"/>
<text x="1499.0" y="139.5" text-anchor="middle" textLength="196" lengthAdjust="spacingAndGlyphs">107°30′E</text>
<rect x="1727.8999999999999" y="163.1" width="5.8" height="20"/>
<text x="1728.3" y="139.5" text-anchor="middle" textLength="196" lengthAdjust="spacingAndGlyphs">108°00′E</text>
<rect x="1957.1999999999998" y="163.1" width="5.8" height="20"/>
<text x="1957.6" y="139.5" text-anchor="middle" textLength="196" lengthAdjust="spacingAndGlyphs">108°30′E</text>
<rect x="2186.5" y="163.1" width="5.8" height="20"/>
<text x="2186.9" y="139.5" text-anchor="middle" textLength="196" lengthAdjust="spacingAndGlyphs">109°00′E</text>
<rect x="2415.7999999999997" y="163.1" width="5.8" height="20"/>
<text x="2416.2" y="139.5" text-anchor="middle" textLength="196" lengthAdjust="spacingAndGlyphs">109°30′E</text>
<rect x="1498.6" y="1208.9" width="5.8" height="20"/>
<text x="1499.0" y="1288" text-anchor="middle" textLength="196" lengthAdjust="spacingAndGlyphs">107°30′E</text>
<rect x="1727.8999999999999" y="1208.9" width="5.8" height="20"/>
<text x="1728.3" y="1288" text-anchor="middle" textLength="196" lengthAdjust="spacingAndGlyphs">108°00′E</text>
<rect x="1957.1999999999998" y="1208.9" width="5.8" height="20"/>
<text x="1957.6" y="1288" text-anchor="middle" textLength="196" lengthAdjust="spacingAndGlyphs">108°30′E</text>
<rect x="2186.5" y="1208.9" width="5.8" height="20"/>
<text x="2186.9" y="1288" text-anchor="middle" textLength="196" lengthAdjust="spacingAndGlyphs">109°00′E</text>
<rect x="2415.7999999999997" y="1208.9" width="5.8" height="20"/>
<text x="2416.2" y="1288" text-anchor="middle" textLength="196" lengthAdjust="spacingAndGlyphs">109°30′E</text>
<rect x="1384.1" y="230.6" width="20" height="5.8"/>
<rect x="2427.9" y="228.1" width="20" height="5.8"/>
<rect x="1384.1" y="474.1" width="20" height="5.8"/>
<rect x="2427.9" y="472.1" width="20" height="5.8"/>
<rect x="1384.1" y="720.1" width="20" height="5.8"/>
<rect x="2427.9" y="718.1" width="20" height="5.8"/>
<rect x="1384.1" y="964.1" width="20" height="5.8"/>
<rect x="2427.9" y="961.1" width="20" height="5.8"/>
<text x="1916.0" y="60" text-anchor="middle">(b)</text>
<rect x="1449.4" y="1152.7" width="225" height="23.8" fill="#fff" stroke="#000" stroke-width="4.8"/>
<rect x="1447" y="1150.3" width="116" height="28.6"/>
<text x="1435.8" y="1131.4" text-anchor="start">0</text>
<text x="1536.5" y="1131.4" text-anchor="start">25</text>
<text x="1639" y="1131.4" textLength="140.5" lengthAdjust="spacingAndGlyphs">50 km</text>
<g clip-path="url(#cp2)">
<clipPath id="cp2"><rect x="2565" y="186" width="1018" height="1020"/></clipPath>
<g transform="translate(2565,186)">
<g clip-path="url(#ol)">
<rect x="0" y="0" width="1018" height="1020" fill="#58ACDA"/>
<g transform="scale(.1)">
<path d="M1686,3965 1701,4151 1701,4367 1639,4522 1578,4646 1500,4723 1516,4785 1670,4739 1825,4677 1980,4646 2165,4646 2320,4677 2444,4770 2567,4816 2722,4862 2877,4878 3031,4847 3155,4770 3248,4646 3279,4584 3325,4646 3310,4770 3248,4862 3155,4924 3093,5017 3000,5079 2908,5141 2784,5233 2660,5326 2691,5419 2846,5388 2970,5357 3093,5326 3217,5233 3341,5172 3495,5141 3650,5125 3805,5156 3990,5141 4269,5156 4454,5187 4609,5203 4640,5357 4547,5450 4454,5543 4423,5697 4516,5790 4609,5883 4640,6007 4702,6007 4856,6069 5073,6038 5228,5945 5382,5883 5537,5790 5661,5806 5784,5883 5877,5945 6063,5960 6217,5945 6248,6069 6217,6192 6186,6285 6310,6254 6434,6161 6589,6100 6712,6007 6898,6007 7042,6001 7129,6001 7173,6067 7327,6067 7370,6034 7502,6034 7568,6078 7808,6078 7874,6110 7896,6198 7874,6286 7830,6351 8028,6351 8181,6340 8312,6351 8356,6399 8345,6459 8309,6540 8165,6549 8020,6558 7966,6612 7894,6666 7804,6720 7732,6774 7659,6828 7587,6882 7515,6919 7443,6973 7371,7027 7299,7063 7226,7099 7154,7144 7082,7171 6992,7198 6568,7613 6568,7676 6613,7685 6559,7748 6487,7803 6415,7857 6342,7893 6288,7929 6252,8001 6306,8073 6360,8127 6324,8199 6252,8326 2572,8687 -1000,11000 -1000,3000 1000,3000Z" fill="#454B8C"/>
<path d="M510,4862 588,4739 681,4615 773,4491 897,4398 1021,4383 1083,4491 1052,4615 990,4739 897,4862 773,4924 681,4955 557,4955Z" fill="#58ACDA"/>
<path d="M3186,4924 3310,4878 3341,4955 3279,5032 3202,5032Z" fill="#58ACDA"/>
<path d="M3272,7359 3380,7291 3515,7251 3705,7197 3813,7224 3867,7359 3948,7386 4084,7346 4165,7332 4300,7373 4273,7467 4165,7521 4057,7603 3786,7603 3678,7562 3353,7576 3272,7494 3082,7494 3082,7332Z" fill="#58ACDA"/>
<path d="M4436,7264 4517,7224 4639,7224 4679,7305 4598,7359 4490,7359Z" fill="#58ACDA"/>
<path d="M3407,7900 3543,7887 3759,7833 4003,7792 4138,7792 4219,7873 4300,7846 4436,7792 4571,7792 4625,7738 4706,7657 4787,7576 4869,7548 4977,7494 5085,7440 5166,7400 5247,7413 5329,7359 5383,7278 5437,7197 5518,7115 5626,7007 5735,6926 5843,6858 5978,6858 6005,6926 5924,7007 5843,7088 5762,7170 5708,7278 5667,7386 5708,7494 5816,7576 5829,7765 5789,7900 5735,8036 5653,8144 5545,8198 5491,8306 5464,8414 5518,8469 5735,8469 5816,8333 6059,8442 6059,9659 3082,9659 3082,7900Z" fill="#58ACDA"/>
<path d="M6262,7981 6330,7900 6438,7819 6574,7738 6709,7657 6844,7603 6952,7576 7034,7657 6871,7738 6763,7819 6655,7900 6574,7981 6465,8049 6357,8090Z" fill="#58ACDA"/>
<path d="M6817,7061 6871,6980 6952,6899 7061,6831 7196,6818 7142,6926 7034,7007 6925,7102Z" fill="#58ACDA"/>
<path d="M7010,7198 6938,7225 6866,7261 6793,7315 6721,7352 6631,7388 6559,7442 6487,7496 6415,7532 6342,7568 6252,7622 6180,7676 6072,7748 5982,7821 6072,7839 6180,7803 6252,7748 6342,7694 6415,7658 6505,7622 6568,7613 6649,7586 6775,7514 6902,7424 6992,7388 7046,7297Z" fill="#58ACDA"/>
<path d="M4138,8469 4165,8360 4246,8279 4300,8171 4354,8063 4490,8036 4652,8009 4706,7900 4814,7819 4950,7765 5017,7738 5031,7873 5072,7981 5031,8090 4950,8171 4869,8252 4787,8333 4679,8414 4598,8496 4490,8536 4300,8509 4219,8509Z" fill="#454B8C"/>
<path d="M2413,3532 2475,3625 2614,3563 2629,3780 2536,3811 2444,3842 2382,3965 2351,4089 2289,4213 2196,4336 2165,4429 2289,4445 2382,4367 2475,4275 2567,4244 2629,4367 2722,4491 2846,4522 2970,4522 3016,4429 3016,4244 3093,4213 3186,4166 3279,4244 3372,4336 3495,4414 3619,4460 3743,4491 3851,4522 3867,4646 3774,4739 3836,4800 3990,4770 4145,4754 4269,4770 4331,4862 4454,4893 4640,4909 4825,4924 4918,4986 4980,5079 5011,5203 5042,5326 5104,5419 5228,5450 5246,5475 5290,5585 5355,5683 5443,5672 5552,5585 5662,5552 5750,5497 5859,5486 5925,5541 5990,5607 6012,5683 6122,5683 6209,5628 6407,5618 6494,5661 6669,5672 6823,5683 6910,5661 7020,5661 7042,5804 7108,5815 7195,5771 7316,5738 7348,5694 7458,5716 7524,5804 7568,5848 7655,5891 7808,5913 7940,5924 8071,5935 8115,6023 8203,6088 8290,6110 8356,6154 8553,6154 8597,6121 8728,6121 8794,6176 8860,6242 8947,6286 8991,6351 9035,6399 8850,6215 8922,6269 8994,6323 9067,6395 9103,6495 9229,6495 9247,6468 9319,6477 9355,6558 9409,6585 9572,6585 9698,6558 9770,6504 9860,6468 9969,6431 10113,6377 10510,6341 11000,-1000 -1000,-1000 -1000,3400Z" fill="#867E36"/>
<path d="M2134,3022 2289,3037 2413,3115 2475,3207 2351,3238 2165,3176 2011,3130 2011,3022Z" fill="#58ACDA"/>
<path d="M9337,6269 9409,6215 9482,6179 9536,6215 9707,6215 9707,6251 9572,6260 9500,6287 9427,6332 9346,6332Z" fill="#58ACDA"/>
<path d="M9211,7045 9283,7009 9355,6955 9427,6901 9518,6864 9608,6828 9698,6792 9788,6765 9878,6783 9951,6846 10023,6864 10131,6846 10510,6846 10510,7117 10059,7090 9969,7153 9842,7189 9698,7180 9608,7207 9554,7153 9482,7171 9409,7189 9337,7171 9247,7144 9211,7099Z" fill="#867E36"/>
<path d="M6866,7550 6902,7424 6992,7388 7046,7297 7136,7243 7226,7198 7335,7153 7443,7117 7551,7081 7623,7063 8092,7063 8128,7099 8273,7099 8309,7063 8381,7027 8489,6991 8652,6973 8652,7009 8579,7081 8525,7135 8453,7189 8381,7225 8327,7279 8282,7306 8399,7315 8435,7279 8598,7279 8634,7324 8733,7334 8706,7406 8634,7478 8525,7532 8453,7568 8345,7577 8201,7604 8128,7640 8074,7694 8128,7703 8165,7748 7984,7839 7876,7839 7443,7875 7299,7875 7226,7748 7154,7676 7082,7658 7028,7676 6956,7694 6992,7604 6902,7586Z" fill="#867E36"/>
<path d="M8778,7730 8886,7676 8994,7640 9139,7622 9175,7676 9283,7712 9337,7712 9319,7785 9211,7839 9103,7965 9031,7965 8994,7839 8886,7803 8814,7785Z" fill="#867E36"/>
<path d="M7262,7712 7317,7676 7389,7658 7443,7622 7551,7604 7623,7577 7677,7532 7795,7532 7795,7622 7732,7640 7695,7676 7623,7712 7515,7757 7443,7821 7299,7821Z" fill="#A0CD8C"/>
<path d="M9464,6720 9509,6720 9509,6765 9464,6765Z" fill="#A0CD8C"/>
<path d="M4598,9064 4625,8983 4733,8902 4842,8793 4950,8712 5058,8658 5247,8645 5464,8645 5626,8685 5626,8847 5518,8888 5410,8956 5329,9037 5247,9091 5139,9091 4977,9118 4814,9199 4679,9226Z" fill="#867E36"/>
<path d="M7808,5366 7874,5300 7984,5278 8093,5190 8137,5081 8203,4971 8334,4928 8466,4939 8487,5015 8444,5125 8400,5212 8356,5300 8312,5388 8247,5431 8334,5453 8400,5475 8378,5585 8312,5694 8247,5782 8192,5782 8181,5628 8115,5607 8028,5563 7940,5497 7863,5431Z" fill="#58ACDA"/>
<path d="M7929,5366 8028,5344 8115,5278 8203,5234 8225,5168 8192,5125 8247,5059 8334,5070 8345,5168 8290,5256 8268,5366 8203,5431 8115,5508 8028,5519 7984,5453Z" fill="#454B8C"/>
<path d="M8728,5300 8794,5234 8904,5190 9123,5190 9210,5234 9232,5322 9210,5409 9079,5420 8904,5431 8772,5388Z" fill="#58ACDA"/>
<path d="M8871,5322 8904,5278 9101,5267 9112,5322 9035,5355 8882,5355Z" fill="#454B8C"/>
<path d="M9123,4906 9254,4928 9364,4949 9473,5081 9342,5103 9232,5015Z" fill="#58ACDA"/>
<path d="M9342,6286 9429,6220 9517,6176 9714,6209 9692,6264 9561,6286 9473,6329 9364,6340Z" fill="#58ACDA"/>
<path d="M2645,2558 2784,2527 2970,2511 3093,2465 3300,2489 3422,2465 3496,2502 3545,2551 3618,2563 3692,2538 3912,2538 4010,2600 4133,2673 4145,2538 4169,2551 4169,2698 4230,2747 4279,2795 4328,2869 4377,2918 4451,2942 4524,2967 4598,3016 4647,3089 4720,3138 4769,3212 4843,3285 4916,3359 4990,3383 5149,3383 5136,3310 5063,3236 5014,3138 4965,3016 4892,2918 4830,2820 4794,2747 4818,2722 4745,2649 4732,2600 4843,2587 4892,2649 4941,2722 5014,2734 5014,2624 4965,2551 4916,2538 5014,2514 5038,2477 5063,2404 5112,2330 5124,2232 5161,2183 5381,2159 5553,2147 5577,2134 5577,1914 5504,1424 5749,445 4769,200 3300,935 2321,1424Z" fill="#A0CD8C"/>
<path d="M4806,2379 4867,2330 4928,2318 4916,2379 4855,2440 4806,2440Z" fill="#867E36"/>
<path d="M6581,3077 6532,3016 6459,2942 6385,2930 6238,2930 6189,3016 6116,3114 5993,3138 5969,3236 5920,3261 5969,3359 5993,3432 6189,3408 6336,3408 6434,3457 6508,3506 6606,3506 6630,3628 6630,3824 6728,3848 6728,4000 8300,4000 8300,3628 7463,3383 7218,3016 6973,2526 6875,1914 6826,1987 6777,2061 6789,2232 6826,2404 6863,2551 6863,2722 6801,2820 6728,2893 6655,2991Z" fill="#A0CD8C"/>
<path d="M5749,1963 5847,1841 5969,1743 6116,1669 6312,1645 6532,1645 6679,1694 6801,1767 6863,1865 6973,1865 6850,1424 6483,1375 5993,1620 5626,2036 5651,2110Z" fill="#A0CD8C"/>
<path d="M6189,2673 6238,2551 6275,2404 6324,2306 6385,2281 6385,2453 6361,2600 6336,2722 6263,2795 6189,2747Z" fill="#A0CD8C"/>
<path d="M5712,2771 5773,2722 5871,2710 5908,2795 5932,2649 5993,2587 6042,2587 6042,2698 6067,2844 6018,2967 5969,3040 5895,3040 5822,2967 5761,2869Z" fill="#A0CD8C"/>
<path d="M5540,2722 5626,2722 5626,2795 5540,2795Z" fill="#A0CD8C"/>
<path d="M5234,2489 5320,2489 5320,2538 5234,2538Z" fill="#A0CD8C"/>
<path d="M3484,3408 3545,3334 3618,3261 3667,3212 3790,3175 4169,3175 4169,3285 4108,3359 4010,3432 3912,3469 3484,3469Z" fill="#A0CD8C"/>
<path d="M5136,4000 5210,3922 5381,3897 5430,3799 5504,3775 5602,3824 5700,3848 5749,3922 5847,3922 5895,4000Z" fill="#A0CD8C"/>
<path d="M5914,3285 5969,3416 6166,3427 6209,3394 6363,3405 6450,3460 6560,3493 6626,3548 6637,3723 6691,3745 6713,3964 6757,4095 6823,4183 6998,4205 7151,4216 7261,4259 7370,4314 7480,4358 7589,4402 7699,4457 7721,4577 7808,4687 7907,4752 7874,4862 7808,4949 7798,5015 8006,5015 8093,4949 8181,4884 8268,4818 8334,4730 8400,4643 8466,4577 8553,4489 8641,4402 8728,4336 8816,4292 8904,4281 9123,4227 9123,2890 6582,2890 6582,3066 6494,3066 6253,3000 6188,3044 6144,3131 5990,3175 5925,3241Z" fill="#A0CD8C"/>
<path d="M7688,4095 7732,4008 7808,3920 7896,3854 8006,3810 8137,3789 8247,3832 8356,3920 8509,3964 8685,4008 8794,4051 8728,4073 8597,4117 8466,4161 8334,4183 8203,4205 8028,4205 7918,4270 7765,4281 7699,4205Z" fill="#867E36"/>
<path d="M7798,4073 7841,3986 7918,3920 8006,3854 8093,3832 8181,3876 8214,3942 8137,4008 8028,4073 7918,4139 7830,4161Z" fill="#58ACDA"/>
<path d="M5180,3920 5268,3898 5399,3876 5465,3789 5530,3799 5618,3854 5706,3898 5815,3876 5881,3854 5881,3964 5837,4051 5903,4139 5903,4227 5815,4270 5837,4358 5925,4402 6012,4424 6122,4468 6209,4533 6220,4632 6056,4632 6012,4577 5881,4566 5793,4555 5750,4643 5618,4643 5574,4577 5530,4489 5465,4424 5377,4424 5333,4533 5290,4621 5180,4665 5092,4621 5070,3964Z" fill="#A0CD8C"/>
<path d="M6045,4249 6133,4249 6133,4325 6045,4325Z" fill="#A0CD8C"/>
<path d="M5793,4971 5881,4971 5881,5059 5793,5059Z" fill="#A0CD8C"/>
<path d="M8915,5607 8991,5519 9123,5475 9276,5475 9342,5519 9451,5585 9561,5694 9780,5826 9999,5913 10043,6001 9889,5957 9605,5957 9539,6034 9386,6034 9298,5979 9188,5935 9101,5869 9013,5804 8947,5716Z" fill="#A0CD8C"/>
<path d="M8608,4730 8663,4676 8728,4698 8794,4774 8816,4840 8728,4851 8641,4796Z" fill="#A0CD8C"/>
<path d="M8794,4928 8882,4884 8947,4971 8969,5059 8904,5037 8838,4982Z" fill="#A0CD8C"/>
<path d="M7250,7738 7358,7657 7548,7603 7710,7535 7791,7548 7764,7657 7629,7697 7467,7738 7358,7765Z" fill="#A0CD8C"/>
<path d="M8940,5746 8994,5854 9067,5899 9247,5908 9319,5980 9427,6035 9590,6026 9644,5980 9806,5953 9933,5944 10023,5908 10023,5746Z" fill="#A0CD8C"/>
<path d="M1531,5048 1608,4971 1717,4924 1825,4955 1918,4940 1949,5079 2103,5110 2382,5110 2351,5203 2227,5295 2134,5357 1980,5419 1856,5419 1763,5450 1779,5605 1717,5543 1639,5419 1578,5264 1531,5172Z" fill="#A65496"/>
<path d="M1114,6069 1175,5945 1268,5852 1392,5790 1516,5744 1516,5852 1392,5914 1330,6007 1206,6084Z" fill="#A65496"/>
<path d="M5367,6301 5444,6254 5490,6285 5429,6347Z" fill="#A65496"/>
<path d="M2257,5803 2352,5789 2433,5871 2541,5898 2622,5844 2812,5803 2947,5762 3082,5708 3218,5668 3313,5668 3299,5762 3218,5844 3164,5952 3082,6033 2947,6060 2812,6074 2677,6033 2541,5992 2406,5952 2298,5898Z" fill="#A65496"/>
<path d="M3164,6412 3191,6277 3272,6141 3326,5952 3380,5844 3461,5871 3475,6006 3543,6141 3624,6249 3732,6331 3894,6385 4030,6439 4138,6520 4246,6615 4381,6601 4517,6547 4639,6480 4706,6493 4706,6601 4625,6682 4517,6764 4381,6831 4219,6831 4057,6858 3894,6818 3759,6831 3651,6791 3570,6682 3515,6574 3488,6466 3407,6412 3299,6425Z" fill="#A65496"/>
<path d="M5369,6249 5437,6195 5491,6182 5478,6236 5410,6277Z" fill="#A65496"/>
<path d="M7196,6263 7304,6209 7318,6277 7210,6290Z" fill="#A65496"/>
<path d="M5366,6264 5421,6220 5487,6187 5487,6242 5421,6286Z" fill="#A65496"/>
</g>
</g>
<use href="#ct"/>
<use href="#o" fill="none" stroke="#111" stroke-width="26" stroke-linejoin="round"/>
</g>
</g>
<rect x="2565" y="186" width="1018" height="1020" fill="none" stroke="#000" stroke-width="7.8"/>
<rect x="2656.6" y="163.1" width="5.8" height="20"/>
<text x="2657.0" y="139.5" text-anchor="middle" textLength="196" lengthAdjust="spacingAndGlyphs">107°30′E</text>
<rect x="2885.9" y="163.1" width="5.8" height="20"/>
<text x="2886.3" y="139.5" text-anchor="middle" textLength="196" lengthAdjust="spacingAndGlyphs">108°00′E</text>
<rect x="3115.2" y="163.1" width="5.8" height="20"/>
<text x="3115.6" y="139.5" text-anchor="middle" textLength="196" lengthAdjust="spacingAndGlyphs">108°30′E</text>
<rect x="3344.5" y="163.1" width="5.8" height="20"/>
<text x="3344.9" y="139.5" text-anchor="middle" textLength="196" lengthAdjust="spacingAndGlyphs">109°00′E</text>
<rect x="3573.7999999999997" y="163.1" width="5.8" height="20"/>
<text x="3574.2" y="139.5" text-anchor="middle" textLength="196" lengthAdjust="spacingAndGlyphs">109°30′E</text>
<rect x="2656.6" y="1208.9" width="5.8" height="20"/>
<text x="2657.0" y="1288" text-anchor="middle" textLength="196" lengthAdjust="spacingAndGlyphs">107°30′E</text>
<rect x="2885.9" y="1208.9" width="5.8" height="20"/>
<text x="2886.3" y="1288" text-anchor="middle" textLength="196" lengthAdjust="spacingAndGlyphs">108°00′E</text>
<rect x="3115.2" y="1208.9" width="5.8" height="20"/>
<text x="3115.6" y="1288" text-anchor="middle" textLength="196" lengthAdjust="spacingAndGlyphs">108°30′E</text>
<rect x="3344.5" y="1208.9" width="5.8" height="20"/>
<text x="3344.9" y="1288" text-anchor="middle" textLength="196" lengthAdjust="spacingAndGlyphs">109°00′E</text>
<rect x="3573.7999999999997" y="1208.9" width="5.8" height="20"/>
<text x="3574.2" y="1288" text-anchor="middle" textLength="196" lengthAdjust="spacingAndGlyphs">109°30′E</text>
<rect x="2542.1" y="230.6" width="20" height="5.8"/>
<rect x="3585.9" y="228.1" width="20" height="5.8"/>
<text x="3619" y="250" text-anchor="start">24°00′N</text>
<rect x="2542.1" y="474.1" width="20" height="5.8"/>
<rect x="3585.9" y="472.1" width="20" height="5.8"/>
<text x="3619" y="492.7" text-anchor="start">23°30′N</text>
<rect x="2542.1" y="720.1" width="20" height="5.8"/>
<rect x="3585.9" y="718.1" width="20" height="5.8"/>
<text x="3619" y="736.2" text-anchor="start">23°00′N</text>
<rect x="2542.1" y="964.1" width="20" height="5.8"/>
<rect x="3585.9" y="961.1" width="20" height="5.8"/>
<text x="3619" y="979.8" text-anchor="start">22°30′N</text>
<text x="3074.0" y="60" text-anchor="middle">(c)</text>
<rect x="2607.4" y="1152.7" width="225" height="23.8" fill="#fff" stroke="#000" stroke-width="4.8"/>
<rect x="2605" y="1150.3" width="116" height="28.6"/>
<text x="2593.8" y="1131.4" text-anchor="start">0</text>
<text x="2694.5" y="1131.4" text-anchor="start">25</text>
<text x="2797" y="1131.4" textLength="140.5" lengthAdjust="spacingAndGlyphs">50 km</text>
<g clip-path="url(#cp3)">
<clipPath id="cp3"><rect x="249" y="1493" width="1018" height="1019.5"/></clipPath>
<g transform="translate(249,1493)">
<g shape-rendering="crispEdges" transform="translate(0,6.13) scale(.01)" fill="none" stroke-width="1226">
<path class="a" d="M13646 230h2422M25606 230h2422M35174 230h37106M80622 230h6010M93778 230h8402"/>
<path class="b" d="M72250 230h8402M86602 230h7206"/>
<path class="a" d="M25606 1426h2422M35174 1426h37106M80622 1426h6010M93778 1426h6010"/>
<path class="b" d="M72250 1426h2422M78230 1426h2422M86602 1426h7206"/>
<path class="c" d="M74642 1426h3618"/>
<path class="a" d="M25606 2622h3618M33978 2622h38302M80622 2622h6010M93778 2622h4814"/>
<path class="b" d="M72250 2622h2422M77034 2622h3618M86602 2622h7206"/>
<path class="c" d="M74642 2622h2422"/>
<path class="a" d="M24410 3818h37106M65074 3818h6010M79426 3818h6010M93778 3818h4814"/>
<path class="b" d="M61486 3818h3618M71054 3818h2422M75838 3818h3618M85406 3818h8402"/>
<path class="c" d="M73446 3818h2422"/>
<path class="a" d="M24410 5014h22754M51918 5014h8402M65074 5014h4814M78230 5014h6010M93778 5014h8402"/>
<path class="b" d="M47134 5014h4814M60290 5014h4814M69858 5014h8402M84210 5014h9598"/>
<path class="a" d="M20822 6210h14382M37566 6210h8402M51918 6210h7206M65074 6210h4814M77034 6210h7206M92582 6210h9598"/>
<path class="b" d="M45938 6210h6010M59094 6210h6010M69858 6210h7206M84210 6210h8402"/>
<path class="a" d="M19626 7406h14382M37566 7406h8402M51918 7406h6010M65074 7406h4814M75838 7406h4814M91386 7406h10794"/>
<path class="b" d="M45938 7406h6010M57898 7406h7206M69858 7406h6010M80622 7406h10794"/>
<path class="a" d="M18430 8602h14382M37566 8602h7206M51918 8602h6010M65074 8602h13186M80622 8602h1226M85406 8602h16774"/>
<path class="b" d="M44742 8602h7206M57898 8602h7206M78230 8602h2422M81818 8602h3618"/>
<path class="a" d="M18430 9798h13186M36370 9798h9598M50722 9798h6010M65074 9798h6010M83014 9798h19166"/>
<path class="b" d="M45938 9798h4814M56702 9798h8402M71054 9798h11990"/>
<path class="a" d="M11254 10994h1226M18430 10994h10794M35174 10994h11990M50722 10994h4814M63878 10994h4814M83014 10994h19166"/>
<path class="b" d="M47134 10994h3618M55506 10994h8402M68662 10994h14382"/>
<path class="a" d="M11254 12190h1226M18430 12190h6010M35174 12190h13186M53114 12190h1226M63878 12190h4814M81818 12190h11990M94974 12190h7206"/>
<path class="b" d="M48330 12190h4814M54310 12190h9598M68662 12190h13186M93778 12190h1226"/>
<path class="a" d="M8862 13386h2422M35174 13386h11990M62682 13386h4814M79426 13386h14382M94974 13386h7206"/>
<path class="b" d="M47134 13386h15578M67466 13386h11990M93778 13386h1226"/>
<path class="a" d="M8862 14582h2422M35174 14582h11990M61486 14582h4814M78230 14582h8402M88994 14582h13186"/>
<path class="b" d="M47134 14582h14382M66270 14582h11990"/>
<path class="a" d="M8862 15778h2422M35174 15778h11990M61486 15778h3618M75838 15778h4814M81818 15778h4814M88994 15778h13186"/>
<path class="b" d="M47134 15778h14382M65074 15778h10794"/>
<path class="a" d="M33978 16974h14382M59094 16974h4814M74642 16974h4814M83014 16974h19166"/>
<path class="b" d="M48330 16974h10794M63878 16974h10794"/>
<path class="a" d="M33978 18170h19166M54310 18170h9598M69858 18170h8402M83014 18170h19166"/>
<path class="b" d="M53114 18170h1226M63878 18170h6010"/>
<path class="a" d="M5274 19366h4814M33978 19366h29930M69858 19366h8402M83014 19366h19166"/>
<path class="b" d="M63878 19366h6010"/>
<path class="a" d="M1686 20562h7206M37566 20562h26342M68662 20562h8402M83014 20562h4814M91386 20562h10794"/>
<path class="b" d="M63878 20562h4814M87798 20562h3618"/>
<path class="a" d="M-706 21758h9598M44742 21758h17970M66270 21758h10794M83014 21758h2422M91386 21758h10794"/>
<path class="b" d="M62682 21758h3618M85406 21758h6010"/>
<path class="a" d="M-706 22954h8402M44742 22954h29930M81818 22954h3618M91386 22954h10794"/>
<path class="b" d="M85406 22954h6010"/>
<path class="b" d="M-706 24150h3618M84210 24150h6010"/>
<path class="a" d="M2882 24150h4814M44742 24150h27538M80622 24150h3618M90190 24150h11990"/>
<path class="b" d="M-706 25346h3618M84210 25346h6010"/>
<path class="a" d="M2882 25346h3618M44742 25346h25146M79426 25346h4814M90190 25346h11990"/>
<path class="b" d="M-706 26542h3618M84210 26542h6010"/>
<path class="a" d="M2882 26542h3618M12450 26542h1226M44742 26542h25146M77034 26542h7206M90190 26542h11990"/>
<path class="b" d="M-706 27738h6010M84210 27738h3618"/>
<path class="a" d="M5274 27738h8402M44742 27738h8402M54310 27738h14382M74642 27738h9598M87798 27738h13186"/>
<path class="b" d="M-706 28934h7206M84210 28934h2422"/>
<path class="a" d="M6470 28934h7206M45938 28934h7206M57898 28934h10794M73446 28934h10794M86602 28934h14382"/>
<path class="b" d="M-706 30130h7206"/>
<path class="a" d="M6470 30130h4814M57898 30130h10794M71054 30130h28734"/>
<path class="b" d="M-706 31326h7206"/>
<path class="a" d="M6470 31326h3618M16038 31326h8402M57898 31326h41890"/>
<path class="b" d="M-706 32522h4814"/>
<path class="a" d="M4078 32522h4814M13646 32522h10794M57898 32522h19166M80622 32522h16774"/>
<path class="a" d="M-706 33718h8402M13646 33718h10794M62682 33718h13186M80622 33718h11990"/>
<path class="a" d="M-706 34914h7206M12450 34914h11990M62682 34914h11990M79426 34914h10794"/>
<path class="a" d="M-706 36110h3618M11254 36110h14382M62682 36110h8402M79426 36110h8402"/>
<path class="a" d="M-706 37306h3618M10058 37306h15578M62682 37306h7206M79426 37306h7206"/>
<path class="a" d="M-706 38502h3618M8862 38502h2422M14842 38502h10794M62682 38502h6010M79426 38502h3618"/>
<path class="a" d="M-706 39698h3618M7666 39698h2422M16038 39698h9598M61486 39698h6010"/>
<path class="a" d="M-706 40894h3618M6470 40894h2422M16038 40894h9598M61486 40894h4814"/>
<path class="a" d="M-706 42090h9598M16038 42090h9598M61486 42090h3618"/>
<path class="f" d="M88994 42090h1226"/>
<path class="a" d="M-706 43286h9598M16038 43286h9598M60290 43286h3618"/>
<path class="f" d="M87798 43286h1226"/>
<path class="a" d="M-706 44482h10794M16038 44482h9598"/>
<path class="f" d="M71054 44482h3618M86602 44482h1226M100954 44482h1226"/>
<path class="a" d="M2882 45678h8402M16038 45678h9598"/>
<path class="f" d="M68662 45678h7206M98562 45678h3618"/>
<path class="a" d="M20822 46874h3618"/>
<path class="f" d="M68662 46874h7206M98562 46874h3618"/>
<path class="a" d="M20822 48070h2422M91386 48070h1226"/>
<path class="f" d="M66270 48070h3618M72250 48070h2422M98562 48070h3618"/>
<path class="g" d="M69858 48070h2422"/>
<path class="f" d="M7666 49266h2422M39958 49266h6010M66270 49266h2422M71054 49266h2422M97366 49266h3618"/>
<path class="h" d="M10058 49266h3618"/>
<path class="a" d="M20822 49266h2422M90190 49266h2422"/>
<path class="g" d="M68662 49266h2422"/>
<path class="g" d="M7666 50462h1226M67466 50462h2422"/>
<path class="h" d="M8862 50462h7206"/>
<path class="f" d="M16038 50462h2422M39958 50462h7206M65074 50462h2422M69858 50462h2422M97366 50462h2422"/>
<path class="a" d="M90190 50462h1226"/>
<path class="h" d="M7666 51658h3618M14842 51658h1226"/>
<path class="i" d="M11254 51658h3618"/>
<path class="g" d="M16038 51658h1226M67466 51658h3618"/>
<path class="f" d="M17234 51658h2422M25606 51658h6010M36370 51658h16774M65074 51658h2422M71054 51658h1226M81818 51658h1226M96170 51658h2422"/>
<path class="f" d="M5274 52854h1226M22018 52854h3618M27998 52854h27538M65074 52854h2422M94974 52854h2422"/>
<path class="h" d="M6470 52854h2422M16038 52854h2422"/>
<path class="i" d="M8862 52854h7206"/>
<path class="g" d="M18430 52854h3618M25606 52854h2422M67466 52854h4814"/>
<path class="g" d="M5274 54050h1226M22018 54050h7206M67466 54050h3618"/>
<path class="h" d="M6470 54050h2422M14842 54050h7206"/>
<path class="i" d="M8862 54050h6010"/>
<path class="f" d="M29194 54050h26342M65074 54050h2422M71054 54050h1226M94974 54050h1226"/>
<path class="g" d="M5274 55246h1226M24410 55246h2422M27998 55246h3618M44742 55246h7206M67466 55246h2422"/>
<path class="h" d="M6470 55246h17970M26802 55246h1226"/>
<path class="f" d="M31586 55246h13186M51918 55246h3618M65074 55246h2422M69858 55246h1226M94974 55246h1226"/>
<path class="g" d="M11254 56442h2422M29194 56442h6010M43546 56442h9598"/>
<path class="h" d="M13646 56442h10794M25606 56442h3618"/>
<path class="i" d="M24410 56442h1226"/>
<path class="f" d="M35174 56442h8402M53114 56442h1226M66270 56442h4814M83014 56442h4814"/>
<path class="f" d="M11254 57638h1226M35174 57638h7206M81818 57638h6010"/>
<path class="g" d="M12450 57638h4814M29194 57638h6010M42350 57638h10794"/>
<path class="h" d="M17234 57638h7206M26802 57638h2422"/>
<path class="i" d="M24410 57638h2422"/>
<path class="f" d="M11254 58834h1226M35174 58834h6010M50722 58834h2422M81818 58834h6010"/>
<path class="g" d="M12450 58834h4814M31586 58834h3618M41154 58834h9598"/>
<path class="h" d="M17234 58834h6010M26802 58834h4814"/>
<path class="i" d="M23214 58834h3618"/>
<path class="a" d="M62682 58834h2422"/>
<path class="f" d="M11254 60030h1226M35174 60030h4814M50722 60030h2422M80622 60030h6010"/>
<path class="g" d="M12450 60030h3618M31586 60030h3618M39958 60030h2422M45938 60030h4814"/>
<path class="h" d="M16038 60030h7206M25606 60030h6010M42350 60030h3618"/>
<path class="i" d="M23214 60030h2422"/>
<path class="a" d="M59094 60030h6010"/>
<path class="f" d="M11254 61226h1226M35174 61226h3618M49526 61226h3618M79426 61226h7206"/>
<path class="g" d="M12450 61226h3618M31586 61226h3618M38762 61226h2422M45938 61226h3618"/>
<path class="h" d="M16038 61226h7206M25606 61226h6010M41154 61226h4814"/>
<path class="i" d="M23214 61226h2422"/>
<path class="a" d="M59094 61226h6010"/>
<path class="f" d="M11254 62422h1226M47134 62422h6010M74642 62422h10794"/>
<path class="g" d="M12450 62422h3618M32782 62422h6010M44742 62422h2422"/>
<path class="h" d="M16038 62422h6010M25606 62422h7206M38762 62422h6010"/>
<path class="i" d="M22018 62422h3618"/>
<path class="a" d="M57898 62422h7206"/>
<path class="f" d="M10058 63618h2422M44742 63618h8402M72250 63618h11990M96170 63618h6010"/>
<path class="g" d="M12450 63618h3618M32782 63618h4814M42350 63618h2422"/>
<path class="h" d="M16038 63618h6010M26802 63618h6010M37566 63618h4814"/>
<path class="i" d="M22018 63618h4814"/>
<path class="a" d="M56702 63618h8402"/>
<path class="f" d="M10058 64814h1226M43546 64814h1226M71054 64814h11990M94974 64814h7206"/>
<path class="g" d="M11254 64814h3618M39958 64814h3618"/>
<path class="h" d="M14842 64814h6010M29194 64814h10794"/>
<path class="i" d="M20822 64814h8402"/>
<path class="a" d="M54310 64814h10794"/>
<path class="f" d="M8862 66010h2422M41154 66010h1226M71054 66010h10794M93778 66010h8402"/>
<path class="g" d="M11254 66010h3618M37566 66010h3618"/>
<path class="h" d="M14842 66010h22754"/>
<path class="a" d="M53114 66010h8402M62682 66010h2422"/>
<path class="f" d="M8862 67206h2422M38762 67206h1226M71054 67206h7206M92582 67206h9598"/>
<path class="g" d="M11254 67206h2422M33978 67206h4814"/>
<path class="h" d="M13646 67206h20362"/>
<path class="a" d="M51918 67206h8402"/>
<path class="f" d="M8862 68402h1226M37566 68402h2422M68662 68402h8402M91386 68402h10794"/>
<path class="g" d="M10058 68402h2422M32782 68402h4814"/>
<path class="h" d="M12450 68402h6010M20822 68402h11990"/>
<path class="a" d="M48330 68402h4814M55506 68402h3618"/>
<path class="f" d="M8862 69598h1226M35174 69598h4814M68662 69598h7206M91386 69598h8402"/>
<path class="g" d="M10058 69598h1226M20822 69598h6010M32782 69598h2422"/>
<path class="h" d="M11254 69598h7206M26802 69598h6010"/>
<path class="a" d="M47134 69598h1226M55506 69598h2422"/>
<path class="f" d="M10058 70794h1226M35174 70794h3618M71054 70794h3618M88994 70794h7206"/>
<path class="h" d="M11254 70794h7206M26802 70794h6010"/>
<path class="g" d="M20822 70794h6010M32782 70794h2422"/>
<path class="g" d="M11254 71990h1226M22018 71990h2422M32782 71990h2422"/>
<path class="h" d="M12450 71990h4814M24410 71990h8402"/>
<path class="f" d="M35174 71990h4814M87798 71990h6010"/>
<path class="g" d="M12450 73186h3618M32782 73186h2422"/>
<path class="h" d="M23214 73186h2422M27998 73186h4814"/>
<path class="i" d="M25606 73186h2422"/>
<path class="f" d="M35174 73186h6010M84210 73186h7206"/>
<path class="h" d="M22018 74382h1226M26802 74382h3618"/>
<path class="i" d="M23214 74382h3618"/>
<path class="g" d="M30390 74382h4814"/>
<path class="f" d="M35174 74382h8402M83014 74382h7206"/>
<path class="a" d="M53114 74382h4814M74642 74382h4814"/>
<path class="h" d="M22018 75578h7206"/>
<path class="g" d="M29194 75578h7206"/>
<path class="f" d="M36370 75578h7206M81818 75578h7206"/>
<path class="a" d="M53114 75578h6010M71054 75578h8402"/>
<path class="g" d="M20822 76774h1226M26802 76774h6010"/>
<path class="h" d="M22018 76774h4814"/>
<path class="f" d="M32782 76774h9598M81818 76774h4814"/>
<path class="a" d="M50722 76774h9598M69858 76774h7206M93778 76774h2422"/>
<path class="f" d="M19626 77970h1226M30390 77970h9598M99758 77970h2422"/>
<path class="g" d="M20822 77970h9598"/>
<path class="a" d="M48330 77970h11990M67466 77970h8402M92582 77970h3618"/>
<path class="f" d="M19626 79166h3618M26802 79166h6010M98562 79166h3618"/>
<path class="g" d="M23214 79166h3618"/>
<path class="a" d="M44742 79166h15578M63878 79166h10794M90190 79166h4814"/>
<path class="f" d="M20822 80362h9598M98562 80362h3618"/>
<path class="a" d="M38762 80362h11990M53114 80362h19166M88994 80362h4814"/>
<path class="b" d="M50722 80362h2422"/>
<path class="f" d="M24410 81558h3618M98562 81558h3618"/>
<path class="a" d="M33978 81558h13186M53114 81558h17970M88994 81558h3618"/>
<path class="b" d="M47134 81558h6010"/>
<path class="a" d="M29194 82754h1226M37566 82754h8402M50722 82754h19166"/>
<path class="b" d="M30390 82754h7206M45938 82754h4814"/>
<path class="f" d="M98562 82754h3618"/>
<path class="a" d="M25606 83950h3618M37566 83950h6010M48330 83950h20362"/>
<path class="b" d="M29194 83950h8402M43546 83950h4814"/>
<path class="f" d="M98562 83950h3618"/>
<path class="a" d="M24410 85146h2422M36370 85146h6010M47134 85146h19166"/>
<path class="b" d="M26802 85146h9598M42350 85146h4814"/>
<path class="a" d="M23214 86342h1226M32782 86342h7206M44742 86342h6010M56702 86342h9598"/>
<path class="b" d="M24410 86342h3618M39958 86342h4814M50722 86342h6010"/>
<path class="c" d="M27998 86342h4814"/>
<path class="f" d="M92582 86342h3618"/>
<path class="a" d="M20822 87538h3618M32782 87538h4814M43546 87538h4814M56702 87538h9598"/>
<path class="b" d="M24410 87538h2422M31586 87538h1226M37566 87538h6010M48330 87538h8402"/>
<path class="c" d="M26802 87538h4814"/>
<path class="f" d="M88994 87538h6010M99758 87538h2422"/>
<path class="a" d="M20822 88734h1226M32782 88734h4814M41154 88734h7206M55506 88734h13186"/>
<path class="b" d="M22018 88734h2422M30390 88734h2422M37566 88734h3618M48330 88734h7206"/>
<path class="c" d="M24410 88734h6010"/>
<path class="f" d="M88994 88734h6010M98562 88734h3618"/>
<path class="f" d="M10058 89930h4814M88994 89930h4814M97366 89930h4814"/>
<path class="a" d="M19626 89930h2422M38762 89930h4814M44742 89930h2422M54310 89930h10794"/>
<path class="b" d="M22018 89930h16774M47134 89930h7206"/>
<path class="f" d="M10058 91126h3618M86602 91126h7206M96170 91126h6010"/>
<path class="a" d="M19626 91126h1226M37566 91126h4814M44742 91126h2422M53114 91126h3618M59094 91126h6010"/>
<path class="b" d="M20822 91126h8402M33978 91126h3618M47134 91126h6010"/>
<path class="c" d="M29194 91126h4814"/>
<path class="f" d="M8862 92322h4814M84210 92322h15578"/>
<path class="a" d="M18430 92322h2422M35174 92322h7206M43546 92322h3618M51918 92322h3618M59094 92322h6010"/>
<path class="b" d="M20822 92322h7206M33978 92322h1226M47134 92322h4814"/>
<path class="c" d="M27998 92322h6010"/>
<path class="f" d="M8862 93518h3618M83014 93518h15578"/>
<path class="a" d="M18430 93518h2422M35174 93518h19166M59094 93518h6010"/>
<path class="b" d="M20822 93518h6010M32782 93518h2422"/>
<path class="c" d="M26802 93518h6010"/>
<path class="a" d="M16038 94714h4814M33978 94714h19166M59094 94714h4814"/>
<path class="b" d="M20822 94714h2422M31586 94714h2422"/>
<path class="c" d="M23214 94714h3618M30390 94714h1226"/>
<path class="d" d="M26802 94714h3618"/>
<path class="f" d="M83014 94714h13186"/>
<path class="a" d="M16038 95910h4814M32782 95910h20362M57898 95910h4814"/>
<path class="b" d="M20822 95910h2422M31586 95910h1226"/>
<path class="c" d="M23214 95910h2422M30390 95910h1226"/>
<path class="d" d="M25606 95910h4814"/>
<path class="f" d="M83014 95910h9598"/>
<path class="a" d="M13646 97106h6010M31586 97106h21558M57898 97106h4814"/>
<path class="b" d="M19626 97106h2422M30390 97106h1226"/>
<path class="c" d="M22018 97106h2422M29194 97106h1226"/>
<path class="d" d="M24410 97106h4814"/>
<path class="f" d="M83014 97106h8402"/>
<path class="a" d="M13646 98302h6010M31586 98302h21558M57898 98302h6010"/>
<path class="b" d="M19626 98302h2422M29194 98302h2422"/>
<path class="c" d="M22018 98302h1226M27998 98302h1226"/>
<path class="d" d="M23214 98302h4814"/>
<path class="f" d="M83014 98302h8402"/>
<path class="a" d="M12450 99498h4814M30390 99498h22754M57898 99498h6010M98562 99498h2422"/>
<path class="b" d="M17234 99498h2422M27998 99498h2422"/>
<path class="c" d="M19626 99498h2422M25606 99498h2422"/>
<path class="d" d="M22018 99498h3618"/>
<path class="f" d="M81818 99498h8402"/>
<path class="b" d="M16038 100694h3618M25606 100694h2422"/>
<path class="c" d="M19626 100694h6010"/>
<path class="a" d="M27998 100694h25146M56702 100694h7206M98562 100694h3618"/>
<path class="f" d="M80622 100694h8402"/>
<path class="b" d="M16038 101890h3618M20822 101890h7206"/>
<path class="c" d="M19626 101890h1226"/>
<path class="a" d="M27998 101890h25146M56702 101890h7206M98562 101890h3618"/>
<path class="f" d="M80622 101890h8402"/>
</g>
<use href="#bd"/>
<path d="M510.5,484.5 525.2,529.8 572.8,529.8 534.3,557.7 549.0,603.0 510.5,575.0 472.0,603.0 486.7,557.7 448.2,529.8 495.8,529.8Z" fill="none" stroke="#514946" stroke-width="3.1" stroke-linejoin="miter"/>
</g>
</g>
<rect x="249" y="1493" width="1018" height="1019.5" fill="none" stroke="#000" stroke-width="7.8"/>
<rect x="340.6" y="1470.1" width="5.8" height="20"/>
<text x="341.0" y="1447" text-anchor="middle" textLength="196" lengthAdjust="spacingAndGlyphs">107°30′E</text>
<rect x="569.9" y="1470.1" width="5.8" height="20"/>
<text x="570.3" y="1447" text-anchor="middle" textLength="196" lengthAdjust="spacingAndGlyphs">108°00′E</text>
<rect x="799.2" y="1470.1" width="5.8" height="20"/>
<text x="799.6" y="1447" text-anchor="middle" textLength="196" lengthAdjust="spacingAndGlyphs">108°30′E</text>
<rect x="1028.5" y="1470.1" width="5.8" height="20"/>
<text x="1028.9" y="1447" text-anchor="middle" textLength="196" lengthAdjust="spacingAndGlyphs">109°00′E</text>
<rect x="1257.8" y="1470.1" width="5.8" height="20"/>
<text x="1258.2" y="1447" text-anchor="middle" textLength="196" lengthAdjust="spacingAndGlyphs">109°30′E</text>
<rect x="351.1" y="2515.4" width="5.8" height="20"/>
<text x="356" y="2605.5" text-anchor="middle" textLength="196" lengthAdjust="spacingAndGlyphs">108°00′E</text>
<rect x="568.1" y="2515.4" width="5.8" height="20"/>
<text x="568" y="2605.5" text-anchor="middle" textLength="196" lengthAdjust="spacingAndGlyphs">108°10′E</text>
<rect x="776.1" y="2515.4" width="5.8" height="20"/>
<text x="780" y="2605.5" text-anchor="middle" textLength="196" lengthAdjust="spacingAndGlyphs">108°20′E</text>
<rect x="991.1" y="2515.4" width="5.8" height="20"/>
<text x="992" y="2605.5" text-anchor="middle" textLength="196" lengthAdjust="spacingAndGlyphs">108°30′E</text>
<rect x="1200.1" y="2515.4" width="5.8" height="20"/>
<text x="1204" y="2605.5" text-anchor="middle" textLength="196" lengthAdjust="spacingAndGlyphs">108°40′E</text>
<rect x="226.1" y="1533.1" width="20" height="5.8"/>
<rect x="1269.9" y="1531.1" width="20" height="5.8"/>
<text x="214" y="1558" text-anchor="end">23°10′N</text>
<rect x="226.1" y="1760.6" width="20" height="5.8"/>
<rect x="1269.9" y="1757.1" width="20" height="5.8"/>
<text x="214" y="1785.5" text-anchor="end">23°00′N</text>
<rect x="226.1" y="1987.6" width="20" height="5.8"/>
<rect x="1269.9" y="1984.1" width="20" height="5.8"/>
<text x="214" y="2012.5" text-anchor="end">22°50′N</text>
<rect x="226.1" y="2215.6" width="20" height="5.8"/>
<rect x="1269.9" y="2213.1" width="20" height="5.8"/>
<text x="214" y="2240.5" text-anchor="end">22°40′N</text>
<rect x="226.1" y="2442.6" width="20" height="5.8"/>
<rect x="1269.9" y="2440.1" width="20" height="5.8"/>
<text x="214" y="2467.5" text-anchor="end">22°30′N</text>
<text x="758.0" y="1367" text-anchor="middle">(d)</text>
<rect x="917.3" y="2452.8" width="217.5" height="21.7" fill="none" stroke="#000" stroke-width="4"/>
<rect x="1015.3" y="2454.8" width="60" height="17.7" fill="#fff"/>
<rect x="915.3" y="2450.8" width="114" height="25.7"/>
<text x="903.9" y="2430.4" text-anchor="start">0</text>
<text x="1004.0999999999999" y="2430.4" text-anchor="start">10</text>
<text x="1104.3" y="2430.4" textLength="143.5" lengthAdjust="spacingAndGlyphs">20 km</text>
<g clip-path="url(#cp4)">
<clipPath id="cp4"><rect x="1407" y="1493" width="1018" height="1019.5"/></clipPath>
<g transform="translate(1407,1493)">
<g shape-rendering="crispEdges" transform="translate(0,6.13) scale(.01)" fill="none" stroke-width="1226">
<path class="a" d="M-706 -966h23950M29194 -966h20362M66270 -966h4814M73446 -966h28734"/>
<path class="b" d="M23214 -966h6010"/>
<path class="a" d="M-706 230h25146M29194 230h20362M55506 230h7206M66270 230h4814M73446 230h28734"/>
<path class="b" d="M24410 230h4814"/>
<path class="a" d="M-706 1426h25146M29194 1426h3618M35174 1426h14382M54310 1426h9598M73446 1426h28734"/>
<path class="b" d="M24410 1426h4814M32782 1426h2422"/>
<path class="a" d="M-706 2622h4814M10058 2622h14382M39958 2622h9598M54310 2622h9598M72250 2622h9598M86602 2622h15578"/>
<path class="b" d="M24410 2622h15578M81818 2622h4814"/>
<path class="a" d="M-706 3818h4814M10058 3818h13186M41154 3818h9598M54310 3818h8402M72250 3818h9598M90190 3818h11990"/>
<path class="b" d="M23214 3818h17970M81818 3818h8402"/>
<path class="a" d="M-706 5014h3618M10058 5014h11990M41154 5014h9598M54310 5014h8402M72250 5014h3618M78230 5014h2422M91386 5014h10794"/>
<path class="b" d="M22018 5014h6010M35174 5014h6010M75838 5014h2422M80622 5014h10794"/>
<path class="c" d="M27998 5014h7206"/>
<path class="a" d="M-706 6210h3618M11254 6210h9598M41154 6210h8402M54310 6210h7206M72250 6210h3618M91386 6210h10794"/>
<path class="b" d="M20822 6210h1226M36370 6210h4814M75838 6210h15578"/>
<path class="c" d="M22018 6210h14382"/>
<path class="a" d="M-706 7406h2422M10058 7406h1226M16038 7406h2422M41154 7406h8402M54310 7406h7206M72250 7406h3618M91386 7406h10794"/>
<path class="b" d="M11254 7406h4814M37566 7406h3618M75838 7406h8402M86602 7406h4814"/>
<path class="c" d="M18430 7406h9598M33978 7406h3618M84210 7406h2422"/>
<path class="d" d="M27998 7406h6010"/>
<path class="a" d="M8862 8602h1226M39958 8602h8402M54310 8602h8402M72250 8602h4814M91386 8602h10794"/>
<path class="b" d="M10058 8602h6010M37566 8602h2422M77034 8602h14382"/>
<path class="c" d="M16038 8602h4814M35174 8602h2422"/>
<path class="d" d="M20822 8602h14382"/>
<path class="b" d="M7666 9798h4814M37566 9798h2422M78230 9798h11990"/>
<path class="c" d="M12450 9798h6010M35174 9798h2422"/>
<path class="d" d="M18430 9798h16774"/>
<path class="a" d="M39958 9798h8402M59094 9798h4814M72250 9798h6010M90190 9798h11990"/>
<path class="a" d="M-706 10994h3618M39958 10994h7206M59094 10994h6010M73446 10994h6010M90190 10994h9598"/>
<path class="b" d="M6470 10994h3618M37566 10994h2422M79426 10994h10794"/>
<path class="c" d="M10058 10994h4814M33978 10994h3618"/>
<path class="d" d="M14842 10994h19166"/>
<path class="a" d="M-706 12190h7206M39958 12190h7206M56702 12190h9598M75838 12190h3618M85406 12190h14382"/>
<path class="b" d="M6470 12190h3618M36370 12190h3618M79426 12190h6010"/>
<path class="c" d="M10058 12190h9598M30390 12190h6010"/>
<path class="d" d="M19626 12190h10794"/>
<path class="a" d="M-706 13386h8402M39958 13386h6010M55506 13386h10794M77034 13386h2422M84210 13386h15578"/>
<path class="b" d="M7666 13386h1226M35174 13386h4814M79426 13386h4814"/>
<path class="c" d="M8862 13386h26342"/>
<path class="a" d="M4078 14582h2422M41154 14582h3618M54310 14582h11990M75838 14582h3618M83014 14582h15578"/>
<path class="b" d="M6470 14582h2422M18430 14582h2422M33978 14582h7206M79426 14582h3618"/>
<path class="c" d="M8862 14582h9598M20822 14582h13186"/>
<path class="a" d="M4078 15778h2422M41154 15778h3618M54310 15778h11990M75838 15778h26342"/>
<path class="b" d="M6470 15778h2422M11254 15778h1226M14842 15778h6010M24410 15778h4814M32782 15778h8402"/>
<path class="c" d="M8862 15778h2422M12450 15778h2422M20822 15778h3618M29194 15778h3618"/>
<path class="a" d="M4078 16974h2422M16038 16974h1226M39958 16974h3618M56702 16974h10794M75838 16974h26342"/>
<path class="b" d="M6470 16974h2422M11254 16974h4814M17234 16974h11990M31586 16974h8402"/>
<path class="c" d="M8862 16974h2422M29194 16974h2422"/>
<path class="a" d="M1686 18170h2422M12450 18170h7206M38762 18170h3618M59094 18170h8402M77034 18170h25146"/>
<path class="b" d="M4078 18170h8402M19626 18170h19166"/>
<path class="a" d="M-706 19366h2422M11254 19366h8402M38762 19366h2422M62682 19366h4814M79426 19366h10794M93778 19366h6010"/>
<path class="b" d="M1686 19366h9598M19626 19366h19166M90190 19366h3618M99758 19366h2422"/>
<path class="b" d="M-706 20562h10794M20822 20562h14382M90190 20562h11990"/>
<path class="a" d="M10058 20562h10794M35174 20562h6010M61486 20562h6010M83014 20562h7206"/>
<path class="b" d="M-706 21758h9598M20822 21758h13186M90190 21758h11990"/>
<path class="a" d="M8862 21758h11990M33978 21758h6010M59094 21758h8402M84210 21758h6010"/>
<path class="b" d="M-706 22954h7206M20822 22954h13186M90190 22954h11990"/>
<path class="a" d="M6470 22954h9598M17234 22954h3618M33978 22954h2422M59094 22954h7206M84210 22954h6010"/>
<path class="c" d="M-706 24150h3618"/>
<path class="b" d="M2882 24150h3618M20822 24150h13186M90190 24150h11990"/>
<path class="a" d="M6470 24150h4814M18430 24150h2422M33978 24150h1226M57898 24150h6010M84210 24150h6010"/>
<path class="c" d="M-706 25346h3618"/>
<path class="b" d="M2882 25346h2422M20822 25346h13186M88994 25346h13186"/>
<path class="a" d="M5274 25346h4814M18430 25346h2422M55506 25346h6010M84210 25346h4814"/>
<path class="c" d="M-706 26542h3618"/>
<path class="b" d="M2882 26542h2422M19626 26542h13186M88994 26542h13186"/>
<path class="a" d="M5274 26542h3618M18430 26542h1226M55506 26542h6010M84210 26542h4814"/>
<path class="c" d="M-706 27738h2422"/>
<path class="b" d="M1686 27738h2422M19626 27738h13186M87798 27738h14382"/>
<path class="a" d="M4078 27738h3618M18430 27738h1226M56702 27738h1226M84210 27738h3618"/>
<path class="c" d="M-706 28934h2422"/>
<path class="b" d="M1686 28934h2422M19626 28934h11990M87798 28934h14382"/>
<path class="a" d="M4078 28934h2422M17234 28934h2422M48330 28934h2422M77034 28934h1226M84210 28934h3618"/>
<path class="c" d="M-706 30130h1226"/>
<path class="b" d="M490 30130h2422M19626 30130h11990M86602 30130h15578"/>
<path class="a" d="M2882 30130h3618M17234 30130h2422M48330 30130h1226M75838 30130h1226M84210 30130h2422"/>
<path class="d" d="M-706 31326h1226"/>
<path class="b" d="M490 31326h2422M19626 31326h9598M86602 31326h15578"/>
<path class="a" d="M2882 31326h4814M17234 31326h2422M29194 31326h2422M83014 31326h3618"/>
<path class="d" d="M-706 32522h1226"/>
<path class="c" d="M490 32522h2422M94974 32522h7206"/>
<path class="a" d="M2882 32522h4814M17234 32522h3618M29194 32522h3618M62682 32522h2422M83014 32522h6010"/>
<path class="b" d="M20822 32522h8402M88994 32522h6010"/>
<path class="d" d="M-706 33718h1226"/>
<path class="c" d="M490 33718h1226M94974 33718h7206"/>
<path class="b" d="M1686 33718h1226M20822 33718h8402M90190 33718h4814"/>
<path class="a" d="M2882 33718h4814M17234 33718h3618M29194 33718h6010M42350 33718h1226M59094 33718h7206M81818 33718h8402"/>
<path class="d" d="M-706 34914h1226M97366 34914h3618"/>
<path class="c" d="M490 34914h1226M94974 34914h2422M100954 34914h1226"/>
<path class="b" d="M1686 34914h1226M20822 34914h10794M91386 34914h3618"/>
<path class="a" d="M2882 34914h4814M17234 34914h3618M31586 34914h3618M57898 34914h8402M80622 34914h10794"/>
<path class="d" d="M-706 36110h1226M96170 36110h4814"/>
<path class="c" d="M490 36110h1226M94974 36110h1226M100954 36110h1226"/>
<path class="a" d="M1686 36110h4814M16038 36110h3618M31586 36110h3618M41154 36110h2422M57898 36110h8402M79426 36110h13186"/>
<path class="b" d="M19626 36110h11990M92582 36110h2422"/>
<path class="d" d="M-706 37306h1226M96170 37306h4814"/>
<path class="c" d="M490 37306h1226M94974 37306h1226M100954 37306h1226"/>
<path class="a" d="M1686 37306h3618M14842 37306h3618M24410 37306h3618M31586 37306h3618M41154 37306h2422M56702 37306h8402M79426 37306h14382"/>
<path class="b" d="M18430 37306h6010M27998 37306h3618M93778 37306h1226"/>
<path class="c" d="M-706 38502h2422M94974 38502h1226M100954 38502h1226"/>
<path class="a" d="M1686 38502h3618M16038 38502h2422M23214 38502h4814M41154 38502h1226M55506 38502h7206M79426 38502h2422M92582 38502h1226"/>
<path class="b" d="M18430 38502h4814M27998 38502h4814M93778 38502h1226"/>
<path class="d" d="M96170 38502h4814"/>
<path class="c" d="M-706 39698h2422M93778 39698h1226M99758 39698h2422"/>
<path class="a" d="M1686 39698h3618M16038 39698h2422M22018 39698h6010M55506 39698h6010M91386 39698h2422"/>
<path class="b" d="M18430 39698h3618M27998 39698h4814"/>
<path class="d" d="M94974 39698h4814"/>
<path class="a" d="M-706 40894h6010M17234 40894h1226M20822 40894h7206M55506 40894h4814M90190 40894h2422"/>
<path class="b" d="M18430 40894h2422M27998 40894h4814M92582 40894h1226"/>
<path class="c" d="M93778 40894h1226M99758 40894h2422"/>
<path class="d" d="M94974 40894h4814"/>
<path class="a" d="M-706 42090h6010M17234 42090h9598M29194 42090h2422M55506 42090h3618M90190 42090h1226M100954 42090h1226"/>
<path class="f" d="M12450 42090h1226"/>
<path class="b" d="M26802 42090h2422M91386 42090h1226M99758 42090h1226"/>
<path class="c" d="M92582 42090h2422M97366 42090h2422"/>
<path class="d" d="M94974 42090h2422"/>
<path class="a" d="M-706 43286h4814M22018 43286h8402M88994 43286h2422M98562 43286h3618"/>
<path class="f" d="M11254 43286h3618"/>
<path class="b" d="M91386 43286h1226"/>
<path class="c" d="M92582 43286h6010"/>
<path class="a" d="M-706 44482h3618M22018 44482h8402M88994 44482h1226M97366 44482h4814"/>
<path class="f" d="M11254 44482h3618"/>
<path class="b" d="M90190 44482h1226"/>
<path class="c" d="M91386 44482h6010"/>
<path class="f" d="M11254 45678h3618"/>
<path class="a" d="M23214 45678h6010M87798 45678h2422M97366 45678h4814"/>
<path class="b" d="M90190 45678h1226M96170 45678h1226"/>
<path class="c" d="M91386 45678h4814"/>
<path class="f" d="M11254 46874h3618M71054 46874h2422"/>
<path class="a" d="M23214 46874h6010M87798 46874h1226M96170 46874h6010"/>
<path class="b" d="M88994 46874h1226M94974 46874h1226"/>
<path class="c" d="M90190 46874h4814"/>
<path class="f" d="M10058 48070h4814M67466 48070h7206M98562 48070h3618"/>
<path class="a" d="M23214 48070h3618M87798 48070h1226M94974 48070h3618"/>
<path class="b" d="M88994 48070h1226M93778 48070h1226"/>
<path class="c" d="M90190 48070h3618"/>
<path class="f" d="M8862 49266h2422M13646 49266h3618M67466 49266h7206M97366 49266h4814"/>
<path class="g" d="M11254 49266h2422"/>
<path class="a" d="M87798 49266h1226M94974 49266h2422"/>
<path class="b" d="M88994 49266h6010"/>
<path class="f" d="M5274 50462h3618M14842 50462h3618M54310 50462h4814M65074 50462h3618M71054 50462h3618M96170 50462h6010"/>
<path class="g" d="M8862 50462h6010M68662 50462h2422"/>
<path class="b" d="M87798 50462h4814"/>
<path class="a" d="M92582 50462h2422"/>
<path class="f" d="M5274 51658h1226M13646 51658h4814M25606 51658h7206M38762 51658h3618M43546 51658h15578M63878 51658h2422M71054 51658h2422M94974 51658h4814"/>
<path class="g" d="M6470 51658h7206M66270 51658h4814"/>
<path class="a" d="M86602 51658h1226"/>
<path class="b" d="M87798 51658h7206M99758 51658h2422"/>
<path class="g" d="M5274 52854h8402M26802 52854h1226M65074 52854h6010"/>
<path class="f" d="M13646 52854h4814M25606 52854h1226M27998 52854h31126M61486 52854h3618M71054 52854h2422M78230 52854h2422M93778 52854h4814"/>
<path class="a" d="M86602 52854h1226"/>
<path class="b" d="M87798 52854h6010M98562 52854h3618"/>
<path class="g" d="M5274 54050h6010M24410 54050h4814M48330 54050h7206M63878 54050h6010"/>
<path class="f" d="M11254 54050h2422M18430 54050h6010M29194 54050h19166M55506 54050h8402M69858 54050h2422M77034 54050h3618M92582 54050h3618"/>
<path class="g" d="M5274 55246h4814M20822 55246h3618M26802 55246h3618M45938 55246h9598M61486 55246h8402"/>
<path class="f" d="M10058 55246h3618M18430 55246h2422M30390 55246h15578M55506 55246h6010M69858 55246h2422M77034 55246h2422"/>
<path class="h" d="M24410 55246h2422"/>
<path class="f" d="M18430 56442h2422M32782 56442h9598M55506 56442h4814M67466 56442h4814M75838 56442h3618"/>
<path class="g" d="M20822 56442h2422M26802 56442h6010M42350 56442h13186M60290 56442h7206"/>
<path class="h" d="M23214 56442h3618"/>
<path class="f" d="M18430 57638h2422M33978 57638h6010M57898 57638h2422M67466 57638h4814"/>
<path class="g" d="M20822 57638h2422M26802 57638h7206M39958 57638h7206M53114 57638h4814M60290 57638h7206"/>
<path class="h" d="M23214 57638h3618M47134 57638h6010"/>
<path class="f" d="M18430 58834h2422M33978 58834h3618M65074 58834h6010"/>
<path class="g" d="M20822 58834h2422M25606 58834h8402M37566 58834h6010M53114 58834h11990"/>
<path class="h" d="M23214 58834h2422M43546 58834h9598"/>
<path class="f" d="M17234 60030h3618M62682 60030h6010M91386 60030h6010M99758 60030h2422"/>
<path class="g" d="M20822 60030h21558M53114 60030h9598"/>
<path class="h" d="M42350 60030h10794"/>
<path class="f" d="M16038 61226h4814M61486 61226h6010M91386 61226h10794"/>
<path class="g" d="M20822 61226h19166M53114 61226h8402"/>
<path class="h" d="M39958 61226h13186"/>
<path class="f" d="M16038 62422h4814M60290 62422h6010M87798 62422h14382"/>
<path class="g" d="M20822 62422h16774M53114 62422h7206"/>
<path class="h" d="M37566 62422h2422M43546 62422h9598"/>
<path class="i" d="M39958 62422h3618"/>
<path class="f" d="M16038 63618h4814M33978 63618h2422M59094 63618h7206M86602 63618h15578"/>
<path class="g" d="M20822 63618h13186M53114 63618h6010"/>
<path class="h" d="M36370 63618h2422M42350 63618h10794"/>
<path class="i" d="M38762 63618h3618"/>
<path class="f" d="M14842 64814h10794M26802 64814h3618M31586 64814h3618M59094 64814h4814M65074 64814h1226M69858 64814h8402M86602 64814h15578"/>
<path class="g" d="M25606 64814h1226M30390 64814h1226M35174 64814h1226M43546 64814h6010M53114 64814h6010"/>
<path class="h" d="M36370 64814h2422M41154 64814h2422M49526 64814h3618"/>
<path class="i" d="M38762 64814h2422"/>
<path class="f" d="M13646 66010h17970M59094 66010h4814M65074 66010h1226M67466 66010h10794M86602 66010h15578"/>
<path class="g" d="M31586 66010h3618M41154 66010h17970"/>
<path class="h" d="M35174 66010h6010"/>
<path class="f" d="M12450 67206h7206M20822 67206h8402M59094 67206h19166M86602 67206h7206M98562 67206h3618"/>
<path class="g" d="M29194 67206h7206M41154 67206h17970M93778 67206h4814"/>
<path class="h" d="M36370 67206h4814"/>
<path class="f" d="M12450 68402h7206M26802 68402h3618M59094 68402h17970M86602 68402h4814M98562 68402h3618"/>
<path class="g" d="M30390 68402h28734M91386 68402h7206"/>
<path class="f" d="M10058 69598h8402M27998 69598h2422M33978 69598h7206M59094 69598h8402M72250 69598h3618M85406 69598h3618M91386 69598h1226M98562 69598h3618"/>
<path class="g" d="M30390 69598h3618M41154 69598h17970M67466 69598h4814M88994 69598h2422M92582 69598h6010"/>
<path class="f" d="M10058 70794h8402M27998 70794h13186M59094 70794h7206M71054 70794h3618M84210 70794h3618M96170 70794h6010"/>
<path class="g" d="M41154 70794h17970M66270 70794h4814M87798 70794h8402"/>
<path class="g" d="M11254 71990h1226M41154 71990h17970M66270 71990h4814M86602 71990h3618"/>
<path class="f" d="M13646 71990h2422M24410 71990h16774M59094 71990h7206M71054 71990h3618M83014 71990h3618M93778 71990h8402"/>
<path class="h" d="M90190 71990h3618"/>
<path class="g" d="M12450 73186h1226M24410 73186h2422M38762 73186h19166M62682 73186h7206M85406 73186h2422M92582 73186h1226"/>
<path class="f" d="M23214 73186h1226M26802 73186h4814M36370 73186h2422M57898 73186h4814M69858 73186h3618M81818 73186h3618M93778 73186h8402"/>
<path class="h" d="M87798 73186h4814"/>
<path class="g" d="M22018 74382h6010M38762 74382h2422M48330 74382h9598M62682 74382h7206M84210 74382h3618M90190 74382h2422M99758 74382h2422"/>
<path class="f" d="M27998 74382h2422M36370 74382h2422M57898 74382h4814M69858 74382h3618M80622 74382h3618M92582 74382h7206"/>
<path class="h" d="M41154 74382h7206M87798 74382h2422"/>
<path class="g" d="M22018 75578h3618M37566 75578h2422M47134 75578h21558M83014 75578h7206M98562 75578h3618"/>
<path class="f" d="M25606 75578h3618M36370 75578h1226M68662 75578h3618M80622 75578h2422M90190 75578h8402"/>
<path class="h" d="M39958 75578h7206"/>
<path class="f" d="M20822 76774h7206M36370 76774h1226M54310 76774h2422M68662 76774h3618M79426 76774h3618M87798 76774h9598"/>
<path class="g" d="M37566 76774h2422M43546 76774h10794M56702 76774h11990M83014 76774h4814M97366 76774h4814"/>
<path class="h" d="M39958 76774h3618"/>
<path class="f" d="M36370 77970h2422M50722 77970h7206M68662 77970h2422M78230 77970h11990M92582 77970h3618"/>
<path class="g" d="M38762 77970h11990M57898 77970h10794M96170 77970h6010"/>
<path class="a" d="M14842 79166h4814"/>
<path class="f" d="M36370 79166h21558M67466 79166h3618M77034 79166h11990M92582 79166h3618"/>
<path class="g" d="M57898 79166h9598M96170 79166h6010"/>
<path class="a" d="M10058 80362h11990"/>
<path class="f" d="M39958 80362h21558M67466 80362h3618M77034 80362h9598M92582 80362h3618"/>
<path class="g" d="M61486 80362h6010M96170 80362h6010"/>
<path class="a" d="M8862 81558h14382"/>
<path class="f" d="M43546 81558h9598M55506 81558h7206M67466 81558h3618M77034 81558h7206M91386 81558h6010"/>
<path class="g" d="M53114 81558h2422M62682 81558h4814M97366 81558h4814"/>
<path class="a" d="M8862 82754h3618M14842 82754h8402"/>
<path class="b" d="M12450 82754h2422"/>
<path class="f" d="M43546 82754h8402M55506 82754h7206M65074 82754h6010M77034 82754h6010M88994 82754h8402"/>
<path class="g" d="M51918 82754h3618M62682 82754h2422M97366 82754h4814"/>
<path class="a" d="M10058 83950h3618M14842 83950h7206"/>
<path class="b" d="M13646 83950h1226"/>
<path class="f" d="M43546 83950h8402M53114 83950h9598M65074 83950h6010M77034 83950h3618M87798 83950h9598M100954 83950h1226"/>
<path class="g" d="M51918 83950h1226M62682 83950h2422M97366 83950h3618"/>
<path class="a" d="M11254 85146h3618M16038 85146h7206"/>
<path class="b" d="M14842 85146h1226"/>
<path class="f" d="M41154 85146h19166M63878 85146h6010M86602 85146h15578"/>
<path class="g" d="M60290 85146h3618"/>
<path class="a" d="M12450 86342h2422M19626 86342h8402"/>
<path class="b" d="M14842 86342h4814"/>
<path class="f" d="M37566 86342h22754M62682 86342h6010M84210 86342h17970"/>
<path class="g" d="M60290 86342h2422"/>
<path class="a" d="M14842 87538h1226M19626 87538h7206"/>
<path class="b" d="M16038 87538h3618"/>
<path class="f" d="M33978 87538h33518M81818 87538h20362"/>
<path class="a" d="M14842 88734h9598"/>
<path class="f" d="M32782 88734h17970M53114 88734h13186M81818 88734h14382M98562 88734h3618"/>
<path class="a" d="M16038 89930h6010"/>
<path class="f" d="M29194 89930h4814M35174 89930h15578M53114 89930h17970M81818 89930h13186M98562 89930h3618"/>
<path class="g" d="M33978 89930h1226"/>
<path class="f" d="M29194 91126h20362M51918 91126h19166M81818 91126h11990M98562 91126h3618"/>
<path class="f" d="M25606 92322h13186M42350 92322h7206M51918 92322h19166M81818 92322h10794M98562 92322h3618"/>
<path class="f" d="M25606 93518h10794M44742 93518h23950M80622 93518h10794M97366 93518h4814"/>
<path class="a" d="M7666 94714h2422"/>
<path class="f" d="M45938 94714h20362M80622 94714h9598M96170 94714h6010"/>
<path class="a" d="M7666 95910h6010"/>
<path class="f" d="M45938 95910h4814M51918 95910h11990"/>
<path class="g" d="M50722 95910h1226"/>
<path class="a" d="M10058 97106h6010"/>
<path class="f" d="M44742 97106h4814M53114 97106h10794"/>
<path class="g" d="M49526 97106h3618"/>
<path class="a" d="M10058 98302h6010"/>
<path class="f" d="M44742 98302h4814M53114 98302h8402M85406 98302h4814"/>
<path class="g" d="M49526 98302h3618"/>
<path class="a" d="M14842 99498h2422"/>
<path class="f" d="M43546 99498h6010M53114 99498h7206M85406 99498h3618"/>
<path class="g" d="M49526 99498h3618"/>
<path class="a" d="M16038 100694h1226"/>
<path class="f" d="M41154 100694h17970M85406 100694h3618"/>
<path class="f" d="M41154 101890h17970M85406 101890h3618"/>
</g>
<use href="#bd"/>
<path d="M510.5,484.5 525.2,529.8 572.8,529.8 534.3,557.7 549.0,603.0 510.5,575.0 472.0,603.0 486.7,557.7 448.2,529.8 495.8,529.8Z" fill="none" stroke="#514946" stroke-width="3.1" stroke-linejoin="miter"/>
</g>
</g>
<rect x="1407" y="1493" width="1018" height="1019.5" fill="none" stroke="#000" stroke-width="7.8"/>
<rect x="1498.6" y="1470.1" width="5.8" height="20"/>
<text x="1499.0" y="1447" text-anchor="middle" textLength="196" lengthAdjust="spacingAndGlyphs">107°30′E</text>
<rect x="1727.8999999999999" y="1470.1" width="5.8" height="20"/>
<text x="1728.3" y="1447" text-anchor="middle" textLength="196" lengthAdjust="spacingAndGlyphs">108°00′E</text>
<rect x="1957.1999999999998" y="1470.1" width="5.8" height="20"/>
<text x="1957.6" y="1447" text-anchor="middle" textLength="196" lengthAdjust="spacingAndGlyphs">108°30′E</text>
<rect x="2186.5" y="1470.1" width="5.8" height="20"/>
<text x="2186.9" y="1447" text-anchor="middle" textLength="196" lengthAdjust="spacingAndGlyphs">109°00′E</text>
<rect x="2415.7999999999997" y="1470.1" width="5.8" height="20"/>
<text x="2416.2" y="1447" text-anchor="middle" textLength="196" lengthAdjust="spacingAndGlyphs">109°30′E</text>
<rect x="1509.1" y="2515.4" width="5.8" height="20"/>
<text x="1514" y="2605.5" text-anchor="middle" textLength="196" lengthAdjust="spacingAndGlyphs">108°00′E</text>
<rect x="1726.1" y="2515.4" width="5.8" height="20"/>
<text x="1726" y="2605.5" text-anchor="middle" textLength="196" lengthAdjust="spacingAndGlyphs">108°10′E</text>
<rect x="1934.1" y="2515.4" width="5.8" height="20"/>
<text x="1938" y="2605.5" text-anchor="middle" textLength="196" lengthAdjust="spacingAndGlyphs">108°20′E</text>
<rect x="2149.1" y="2515.4" width="5.8" height="20"/>
<text x="2150" y="2605.5" text-anchor="middle" textLength="196" lengthAdjust="spacingAndGlyphs">108°30′E</text>
<rect x="2358.1" y="2515.4" width="5.8" height="20"/>
<text x="2362" y="2605.5" text-anchor="middle" textLength="196" lengthAdjust="spacingAndGlyphs">108°40′E</text>
<rect x="1384.1" y="1533.1" width="20" height="5.8"/>
<rect x="2427.9" y="1531.1" width="20" height="5.8"/>
<rect x="1384.1" y="1760.6" width="20" height="5.8"/>
<rect x="2427.9" y="1757.1" width="20" height="5.8"/>
<rect x="1384.1" y="1987.6" width="20" height="5.8"/>
<rect x="2427.9" y="1984.1" width="20" height="5.8"/>
<rect x="1384.1" y="2215.6" width="20" height="5.8"/>
<rect x="2427.9" y="2213.1" width="20" height="5.8"/>
<rect x="1384.1" y="2442.6" width="20" height="5.8"/>
<rect x="2427.9" y="2440.1" width="20" height="5.8"/>
<text x="1916.0" y="1367" text-anchor="middle">(e)</text>
<rect x="2079.7" y="2452.8" width="217.5" height="21.7" fill="#fff" stroke="#000" stroke-width="4"/>
<rect x="2077.7" y="2450.8" width="114" height="25.7"/>
<text x="2066.2999999999997" y="2430.4" text-anchor="start">0</text>
<text x="2166.5" y="2430.4" text-anchor="start">10</text>
<text x="2266.7" y="2430.4" textLength="143.5" lengthAdjust="spacingAndGlyphs">20 km</text>
<g clip-path="url(#cp5)">
<clipPath id="cp5"><rect x="2565" y="1493" width="1018" height="1019.5"/></clipPath>
<g transform="translate(2565,1493)">
<g shape-rendering="crispEdges" transform="translate(0,6.13) scale(.01)" fill="none" stroke-width="1226">
<path class="f" d="M2882 -966h3618M18430 -966h15578"/>
<path class="a" d="M73446 -966h6010"/>
<path class="f" d="M2882 230h3618M18430 230h15578"/>
<path class="a" d="M73446 230h6010"/>
<path class="f" d="M18430 1426h16774"/>
<path class="a" d="M72250 1426h7206"/>
<path class="f" d="M18430 2622h7206M27998 2622h9598"/>
<path class="a" d="M72250 2622h6010"/>
<path class="f" d="M18430 3818h20362"/>
<path class="a" d="M50722 3818h1226M62682 3818h3618M72250 3818h3618"/>
<path class="f" d="M18430 5014h13186M33978 5014h6010"/>
<path class="g" d="M31586 5014h2422"/>
<path class="a" d="M48330 5014h4814M62682 5014h4814M69858 5014h4814"/>
<path class="f" d="M16038 6210h13186M36370 6210h3618"/>
<path class="g" d="M29194 6210h7206"/>
<path class="a" d="M48330 6210h4814M61486 6210h11990"/>
<path class="f" d="M11254 7406h6010M37566 7406h2422"/>
<path class="g" d="M17234 7406h15578M33978 7406h3618"/>
<path class="h" d="M32782 7406h1226"/>
<path class="a" d="M48330 7406h4814M60290 7406h11990"/>
<path class="f" d="M8862 8602h6010M37566 8602h2422M85406 8602h1226"/>
<path class="g" d="M14842 8602h14382M35174 8602h2422"/>
<path class="h" d="M29194 8602h6010"/>
<path class="a" d="M48330 8602h4814M59094 8602h7206M67466 8602h4814"/>
<path class="f" d="M490 9798h2422M7666 9798h3618M37566 9798h2422"/>
<path class="g" d="M11254 9798h4814M18430 9798h7206M35174 9798h2422"/>
<path class="h" d="M16038 9798h2422M25606 9798h9598"/>
<path class="a" d="M48330 9798h3618M57898 9798h7206M69858 9798h3618"/>
<path class="f" d="M490 10994h9598M36370 10994h2422"/>
<path class="g" d="M10058 10994h3618M22018 10994h2422M33978 10994h2422"/>
<path class="h" d="M13646 10994h8402M24410 10994h9598"/>
<path class="a" d="M47134 10994h6010M54310 10994h9598M68662 10994h8402"/>
<path class="f" d="M490 12190h7206M36370 12190h2422M81818 12190h2422"/>
<path class="g" d="M7666 12190h6010M22018 12190h2422M32782 12190h3618"/>
<path class="h" d="M13646 12190h8402M24410 12190h8402"/>
<path class="a" d="M47134 12190h15578M67466 12190h10794"/>
<path class="f" d="M490 13386h7206M35174 13386h2422M81818 13386h2422"/>
<path class="g" d="M7666 13386h15578M26802 13386h8402"/>
<path class="h" d="M23214 13386h3618"/>
<path class="a" d="M47134 13386h14382M67466 13386h3618M74642 13386h3618"/>
<path class="b" d="M71054 13386h3618"/>
<path class="f" d="M490 14582h7206M17234 14582h1226M33978 14582h3618M80622 14582h2422"/>
<path class="g" d="M7666 14582h9598M18430 14582h15578"/>
<path class="a" d="M45938 14582h14382M66270 14582h3618M74642 14582h3618"/>
<path class="b" d="M69858 14582h4814"/>
<path class="f" d="M490 15778h8402M16038 15778h3618M33978 15778h3618"/>
<path class="g" d="M8862 15778h7206M19626 15778h14382"/>
<path class="a" d="M44742 15778h14382M66270 15778h2422M73446 15778h3618"/>
<path class="b" d="M68662 15778h4814"/>
<path class="f" d="M490 16974h8402M13646 16974h7206M33978 16974h3618"/>
<path class="g" d="M8862 16974h4814M20822 16974h13186"/>
<path class="a" d="M44742 16974h13186M65074 16974h4814M71054 16974h4814"/>
<path class="b" d="M69858 16974h1226"/>
<path class="f" d="M490 18170h1226M2882 18170h17970M31586 18170h4814"/>
<path class="g" d="M20822 18170h10794"/>
<path class="a" d="M44742 18170h11990M65074 18170h9598"/>
<path class="f" d="M2882 19366h8402M12450 19366h8402M30390 19366h6010"/>
<path class="g" d="M20822 19366h9598"/>
<path class="a" d="M43546 19366h10794M66270 19366h7206"/>
<path class="f" d="M4078 20562h6010M12450 20562h8402M29194 20562h6010"/>
<path class="g" d="M20822 20562h8402"/>
<path class="a" d="M43546 20562h8402M68662 20562h2422"/>
<path class="f" d="M12450 21758h2422M18430 21758h2422M26802 21758h8402"/>
<path class="g" d="M20822 21758h6010"/>
<path class="a" d="M43546 21758h7206"/>
<path class="f" d="M-706 22954h1226M18430 22954h2422M25606 22954h9598"/>
<path class="g" d="M20822 22954h4814"/>
<path class="a" d="M43546 22954h6010"/>
<path class="f" d="M-706 24150h2422M8862 24150h1226M19626 24150h1226M26802 24150h1226M32782 24150h2422"/>
<path class="g" d="M20822 24150h6010M27998 24150h4814"/>
<path class="a" d="M43546 24150h4814M85406 24150h2422"/>
<path class="f" d="M19626 25346h1226M93778 25346h1226"/>
<path class="g" d="M20822 25346h13186"/>
<path class="a" d="M43546 25346h3618M84210 25346h2422"/>
<path class="a" d="M12450 26542h2422M83014 26542h2422"/>
<path class="f" d="M18430 26542h2422M93778 26542h1226"/>
<path class="g" d="M20822 26542h11990"/>
<path class="a" d="M10058 27738h6010M83014 27738h2422"/>
<path class="f" d="M18430 27738h2422M24410 27738h2422M30390 27738h2422M93778 27738h2422"/>
<path class="g" d="M20822 27738h3618M26802 27738h3618"/>
<path class="a" d="M8862 28934h6010M83014 28934h1226"/>
<path class="f" d="M18430 28934h13186M92582 28934h3618M99758 28934h2422"/>
<path class="a" d="M5274 30130h9598"/>
<path class="f" d="M18430 30130h11990M92582 30130h9598"/>
<path class="a" d="M8862 31326h6010"/>
<path class="f" d="M20822 31326h9598M92582 31326h6010"/>
<path class="g" d="M98562 31326h3618"/>
<path class="f" d="M-706 32522h2422M22018 32522h16774M91386 32522h4814"/>
<path class="a" d="M11254 32522h2422"/>
<path class="g" d="M96170 32522h6010"/>
<path class="f" d="M-706 33718h3618M22018 33718h17970M91386 33718h3618"/>
<path class="a" d="M11254 33718h2422"/>
<path class="g" d="M94974 33718h3618"/>
<path class="h" d="M98562 33718h3618"/>
<path class="g" d="M-706 34914h2422M93778 34914h2422"/>
<path class="f" d="M1686 34914h1226M22018 34914h17970M90190 34914h3618"/>
<path class="a" d="M12450 34914h1226"/>
<path class="h" d="M96170 34914h6010"/>
<path class="g" d="M-706 36110h2422M30390 36110h3618M93778 36110h1226"/>
<path class="f" d="M1686 36110h1226M20822 36110h9598M33978 36110h9598M90190 36110h3618"/>
<path class="h" d="M94974 36110h2422M100954 36110h1226"/>
<path class="i" d="M97366 36110h3618"/>
<path class="g" d="M-706 37306h1226M29194 37306h4814M93778 37306h1226"/>
<path class="f" d="M490 37306h2422M19626 37306h3618M26802 37306h2422M33978 37306h9598M88994 37306h4814"/>
<path class="h" d="M94974 37306h1226M100954 37306h1226"/>
<path class="i" d="M96170 37306h4814"/>
<path class="f" d="M-706 38502h3618M18430 38502h4814M26802 38502h2422M33978 38502h3618M38762 38502h4814M87798 38502h4814"/>
<path class="g" d="M29194 38502h4814M92582 38502h2422"/>
<path class="h" d="M94974 38502h1226M100954 38502h1226"/>
<path class="i" d="M96170 38502h4814"/>
<path class="f" d="M-706 39698h2422M18430 39698h3618M26802 39698h2422M33978 39698h2422M37566 39698h4814M87798 39698h4814"/>
<path class="g" d="M29194 39698h4814M92582 39698h1226"/>
<path class="h" d="M93778 39698h2422M99758 39698h2422"/>
<path class="i" d="M96170 39698h3618"/>
<path class="f" d="M-706 40894h2422M26802 40894h2422M32782 40894h3618M38762 40894h2422M86602 40894h4814"/>
<path class="g" d="M29194 40894h3618M91386 40894h2422"/>
<path class="h" d="M93778 40894h8402"/>
<path class="f" d="M-706 42090h1226M26802 42090h2422M31586 42090h3618M38762 42090h2422M86602 42090h3618"/>
<path class="a" d="M10058 42090h6010"/>
<path class="g" d="M29194 42090h2422M90190 42090h3618M99758 42090h2422"/>
<path class="h" d="M93778 42090h6010"/>
<path class="a" d="M8862 43286h7206"/>
<path class="f" d="M25606 43286h9598M86602 43286h2422"/>
<path class="g" d="M88994 43286h4814M96170 43286h6010"/>
<path class="h" d="M93778 43286h2422"/>
<path class="a" d="M8862 44482h8402M19626 44482h2422"/>
<path class="f" d="M25606 44482h8402M69858 44482h1226M86602 44482h2422M99758 44482h2422"/>
<path class="g" d="M88994 44482h10794"/>
<path class="a" d="M2882 45678h1226M8862 45678h13186"/>
<path class="f" d="M25606 45678h7206M67466 45678h3618M86602 45678h2422M96170 45678h3618"/>
<path class="g" d="M88994 45678h7206"/>
<path class="a" d="M2882 46874h1226M10058 46874h10794"/>
<path class="f" d="M26802 46874h4814M67466 46874h2422M86602 46874h2422M94974 46874h3618"/>
<path class="g" d="M88994 46874h6010"/>
<path class="a" d="M2882 48070h2422M12450 48070h1226M17234 48070h3618"/>
<path class="f" d="M86602 48070h3618M94974 48070h2422"/>
<path class="g" d="M90190 48070h4814"/>
<path class="a" d="M4078 49266h1226"/>
<path class="f" d="M86602 49266h9598"/>
<path class="f" d="M11254 50462h3618M85406 50462h8402"/>
<path class="f" d="M10058 51658h2422M85406 51658h6010"/>
<path class="g" d="M12450 51658h6010"/>
<path class="f" d="M8862 52854h2422M18430 52854h3618M85406 52854h4814"/>
<path class="g" d="M11254 52854h7206"/>
<path class="a" d="M60290 52854h15578"/>
<path class="f" d="M8862 54050h2422M19626 54050h3618M85406 54050h3618"/>
<path class="g" d="M11254 54050h2422M17234 54050h2422"/>
<path class="h" d="M13646 54050h3618"/>
<path class="a" d="M59094 54050h3618M65074 54050h10794"/>
<path class="b" d="M62682 54050h2422"/>
<path class="f" d="M7666 55246h3618M19626 55246h2422M85406 55246h2422"/>
<path class="g" d="M11254 55246h1226M17234 55246h2422"/>
<path class="h" d="M12450 55246h4814"/>
<path class="a" d="M54310 55246h6010M71054 55246h2422M99758 55246h2422"/>
<path class="b" d="M60290 55246h10794"/>
<path class="g" d="M11254 56442h1226M17234 56442h2422"/>
<path class="h" d="M12450 56442h4814"/>
<path class="f" d="M19626 56442h2422"/>
<path class="a" d="M51918 56442h7206M69858 56442h2422M98562 56442h3618"/>
<path class="b" d="M59094 56442h2422M66270 56442h3618"/>
<path class="c" d="M61486 56442h4814"/>
<path class="f" d="M11254 57638h1226M19626 57638h2422"/>
<path class="g" d="M12450 57638h1226M16038 57638h3618"/>
<path class="h" d="M13646 57638h2422"/>
<path class="a" d="M48330 57638h9598M68662 57638h2422M97366 57638h4814"/>
<path class="b" d="M57898 57638h3618M66270 57638h2422"/>
<path class="c" d="M61486 57638h4814"/>
<path class="g" d="M11254 58834h7206"/>
<path class="f" d="M18430 58834h10794"/>
<path class="a" d="M48330 58834h8402M67466 58834h2422M98562 58834h3618"/>
<path class="b" d="M56702 58834h3618M63878 58834h3618"/>
<path class="c" d="M60290 58834h3618"/>
<path class="f" d="M11254 60030h1226M18430 60030h10794"/>
<path class="g" d="M12450 60030h6010"/>
<path class="a" d="M48330 60030h7206M66270 60030h2422M90190 60030h6010M98562 60030h2422"/>
<path class="b" d="M55506 60030h3618M63878 60030h2422"/>
<path class="c" d="M59094 60030h4814"/>
<path class="f" d="M11254 61226h1226M17234 61226h11990"/>
<path class="g" d="M12450 61226h4814"/>
<path class="a" d="M47134 61226h7206M66270 61226h2422M90190 61226h4814"/>
<path class="b" d="M54310 61226h3618M63878 61226h2422"/>
<path class="c" d="M57898 61226h6010"/>
<path class="f" d="M11254 62422h2422M17234 62422h14382"/>
<path class="g" d="M13646 62422h3618"/>
<path class="a" d="M38762 62422h3618M43546 62422h8402M65074 62422h3618M88994 62422h4814"/>
<path class="b" d="M51918 62422h6010M62682 62422h2422"/>
<path class="c" d="M57898 62422h4814"/>
<path class="f" d="M10058 63618h6010M20822 63618h13186"/>
<path class="g" d="M16038 63618h4814"/>
<path class="a" d="M38762 63618h9598M63878 63618h3618M88994 63618h4814"/>
<path class="b" d="M48330 63618h7206M61486 63618h2422"/>
<path class="c" d="M55506 63618h6010"/>
<path class="f" d="M10058 64814h6010M22018 64814h2422M27998 64814h6010"/>
<path class="g" d="M16038 64814h6010M24410 64814h3618"/>
<path class="a" d="M38762 64814h6010M63878 64814h3618M88994 64814h3618"/>
<path class="b" d="M44742 64814h9598M61486 64814h2422"/>
<path class="c" d="M54310 64814h7206"/>
<path class="f" d="M8862 66010h7206M27998 66010h6010"/>
<path class="g" d="M16038 66010h11990"/>
<path class="a" d="M38762 66010h3618M60290 66010h7206M88994 66010h4814"/>
<path class="b" d="M42350 66010h10794"/>
<path class="c" d="M53114 66010h7206"/>
<path class="g" d="M8862 67206h1226M16038 67206h3618M20822 67206h7206"/>
<path class="f" d="M10058 67206h6010M19626 67206h1226M27998 67206h4814"/>
<path class="a" d="M38762 67206h2422M60290 67206h7206M88994 67206h6010"/>
<path class="b" d="M41154 67206h9598"/>
<path class="c" d="M50722 67206h9598"/>
<path class="f" d="M8862 68402h7206M19626 68402h1226M27998 68402h3618"/>
<path class="g" d="M16038 68402h3618M20822 68402h7206"/>
<path class="a" d="M38762 68402h2422M59094 68402h9598M86602 68402h8402"/>
<path class="b" d="M41154 68402h7206"/>
<path class="c" d="M48330 68402h10794"/>
<path class="f" d="M8862 69598h11990M27998 69598h3618"/>
<path class="g" d="M20822 69598h7206"/>
<path class="b" d="M41154 69598h6010"/>
<path class="c" d="M47134 69598h10794"/>
<path class="a" d="M57898 69598h13186M85406 69598h9598"/>
<path class="f" d="M10058 70794h11990M29194 70794h3618"/>
<path class="g" d="M22018 70794h7206"/>
<path class="a" d="M41154 70794h2422M57898 70794h14382M84210 70794h11990"/>
<path class="b" d="M43546 70794h3618"/>
<path class="c" d="M47134 70794h10794"/>
<path class="f" d="M12450 71990h3618M18430 71990h1226M30390 71990h3618"/>
<path class="g" d="M23214 71990h7206"/>
<path class="a" d="M41154 71990h2422M56702 71990h17970M84210 71990h14382M100954 71990h1226"/>
<path class="b" d="M43546 71990h4814"/>
<path class="c" d="M48330 71990h8402"/>
<path class="f" d="M23214 73186h3618M31586 73186h3618"/>
<path class="g" d="M26802 73186h4814"/>
<path class="a" d="M41154 73186h2422M56702 73186h9598M69858 73186h8402M84210 73186h14382"/>
<path class="b" d="M43546 73186h4814M66270 73186h3618M98562 73186h3618"/>
<path class="c" d="M48330 73186h8402"/>
<path class="f" d="M22018 74382h7206M33978 74382h2422"/>
<path class="g" d="M29194 74382h4814"/>
<path class="a" d="M39958 74382h2422M56702 74382h9598M71054 74382h9598M84210 74382h11990"/>
<path class="b" d="M42350 74382h6010M66270 74382h4814M96170 74382h6010"/>
<path class="c" d="M48330 74382h8402"/>
<path class="f" d="M22018 75578h9598M33978 75578h2422"/>
<path class="g" d="M31586 75578h2422"/>
<path class="a" d="M39958 75578h2422M57898 75578h6010M73446 75578h8402M85406 75578h9598"/>
<path class="b" d="M42350 75578h6010M63878 75578h9598M94974 75578h7206"/>
<path class="c" d="M48330 75578h9598"/>
<path class="f" d="M20822 76774h15578"/>
<path class="a" d="M38762 76774h3618M57898 76774h6010M73446 76774h6010M85406 76774h8402M100954 76774h1226"/>
<path class="b" d="M42350 76774h6010M68662 76774h4814M93778 76774h7206"/>
<path class="c" d="M48330 76774h9598M63878 76774h4814"/>
<path class="f" d="M16038 77970h4814M25606 77970h9598"/>
<path class="g" d="M20822 77970h4814"/>
<path class="a" d="M38762 77970h2422M72250 77970h7206M85406 77970h7206M99758 77970h2422"/>
<path class="b" d="M41154 77970h7206M68662 77970h3618M92582 77970h7206"/>
<path class="c" d="M48330 77970h20362"/>
<path class="f" d="M12450 79166h7206M24410 79166h6010"/>
<path class="g" d="M19626 79166h4814"/>
<path class="a" d="M38762 79166h1226M72250 79166h6010M85406 79166h6010M98562 79166h3618"/>
<path class="b" d="M39958 79166h8402M68662 79166h3618M91386 79166h7206"/>
<path class="c" d="M48330 79166h20362"/>
<path class="f" d="M11254 80362h8402M24410 80362h3618"/>
<path class="g" d="M19626 80362h4814"/>
<path class="a" d="M35174 80362h3618M71054 80362h7206M85406 80362h4814M97366 80362h4814"/>
<path class="b" d="M38762 80362h8402M68662 80362h2422M90190 80362h7206"/>
<path class="c" d="M47134 80362h21558"/>
<path class="f" d="M11254 81558h8402M22018 81558h4814"/>
<path class="g" d="M19626 81558h2422"/>
<path class="a" d="M32782 81558h2422M71054 81558h6010M86602 81558h3618M94974 81558h7206"/>
<path class="b" d="M35174 81558h10794M68662 81558h2422M90190 81558h4814"/>
<path class="c" d="M45938 81558h22754"/>
<path class="f" d="M11254 82754h13186"/>
<path class="a" d="M29194 82754h3618M69858 82754h7206M87798 82754h11990"/>
<path class="b" d="M32782 82754h11990M67466 82754h2422"/>
<path class="c" d="M44742 82754h22754"/>
<path class="f" d="M11254 83950h11990"/>
<path class="a" d="M27998 83950h2422M68662 83950h8402M87798 83950h4814M93778 83950h4814"/>
<path class="b" d="M30390 83950h13186M66270 83950h2422"/>
<path class="c" d="M43546 83950h22754"/>
<path class="f" d="M11254 85146h3618M17234 85146h4814"/>
<path class="g" d="M14842 85146h2422"/>
<path class="a" d="M26802 85146h2422M67466 85146h9598M87798 85146h4814"/>
<path class="b" d="M29194 85146h13186M66270 85146h1226"/>
<path class="c" d="M42350 85146h23950"/>
<path class="f" d="M11254 86342h3618M18430 86342h2422"/>
<path class="g" d="M14842 86342h3618"/>
<path class="a" d="M25606 86342h2422M66270 86342h10794"/>
<path class="b" d="M27998 86342h3618M65074 86342h1226"/>
<path class="c" d="M31586 86342h33518"/>
<path class="f" d="M11254 87538h3618M18430 87538h1226"/>
<path class="g" d="M14842 87538h3618"/>
<path class="a" d="M24410 87538h1226M63878 87538h10794"/>
<path class="b" d="M25606 87538h4814M62682 87538h1226"/>
<path class="c" d="M30390 87538h32322"/>
<path class="f" d="M11254 88734h3618M17234 88734h1226"/>
<path class="g" d="M14842 88734h2422"/>
<path class="a" d="M23214 88734h1226M63878 88734h9598"/>
<path class="b" d="M24410 88734h4814M43546 88734h3618M54310 88734h3618M60290 88734h3618"/>
<path class="c" d="M29194 88734h3618M37566 88734h6010M47134 88734h7206M57898 88734h2422"/>
<path class="d" d="M32782 88734h4814"/>
<path class="f" d="M11254 89930h7206"/>
<path class="a" d="M22018 89930h1226M65074 89930h7206"/>
<path class="b" d="M23214 89930h4814M41154 89930h6010M54310 89930h10794"/>
<path class="c" d="M27998 89930h3618M37566 89930h3618M47134 89930h7206"/>
<path class="d" d="M31586 89930h1226M33978 89930h3618"/>
<path class="e" d="M32782 89930h1226"/>
<path class="f" d="M10058 91126h6010"/>
<path class="a" d="M19626 91126h2422M65074 91126h6010"/>
<path class="b" d="M22018 91126h3618M38762 91126h8402M54310 91126h10794"/>
<path class="c" d="M25606 91126h2422M36370 91126h2422M47134 91126h7206"/>
<path class="d" d="M27998 91126h2422M33978 91126h2422"/>
<path class="e" d="M30390 91126h3618"/>
<path class="f" d="M8862 92322h6010"/>
<path class="a" d="M18430 92322h3618M38762 92322h4814M65074 92322h4814"/>
<path class="b" d="M22018 92322h3618M36370 92322h2422M43546 92322h3618M53114 92322h11990"/>
<path class="c" d="M25606 92322h1226M47134 92322h6010"/>
<path class="d" d="M26802 92322h3618M33978 92322h2422"/>
<path class="e" d="M30390 92322h3618"/>
<path class="f" d="M6470 93518h6010"/>
<path class="a" d="M17234 93518h3618M36370 93518h7206M65074 93518h3618"/>
<path class="b" d="M20822 93518h3618M43546 93518h21558"/>
<path class="c" d="M24410 93518h1226M33978 93518h2422"/>
<path class="d" d="M25606 93518h8402"/>
<path class="f" d="M6470 94714h4814"/>
<path class="a" d="M17234 94714h3618M33978 94714h10794M65074 94714h2422"/>
<path class="b" d="M20822 94714h2422M44742 94714h20362"/>
<path class="c" d="M23214 94714h1226M31586 94714h2422"/>
<path class="d" d="M24410 94714h7206"/>
<path class="a" d="M17234 95910h3618M32782 95910h8402M48330 95910h7206M62682 95910h3618M98562 95910h3618"/>
<path class="b" d="M20822 95910h1226M31586 95910h1226M41154 95910h7206M55506 95910h7206"/>
<path class="c" d="M22018 95910h2422M29194 95910h2422"/>
<path class="d" d="M24410 95910h4814"/>
<path class="a" d="M17234 97106h3618M32782 97106h8402M48330 97106h7206M61486 97106h4814M97366 97106h4814"/>
<path class="c" d="M20822 97106h3618M27998 97106h2422"/>
<path class="d" d="M24410 97106h3618"/>
<path class="b" d="M30390 97106h2422M41154 97106h7206M55506 97106h6010"/>
<path class="a" d="M17234 98302h2422M33978 98302h2422M41154 98302h13186M61486 98302h4814M96170 98302h6010"/>
<path class="b" d="M19626 98302h1226M27998 98302h6010M36370 98302h4814M54310 98302h7206"/>
<path class="c" d="M20822 98302h3618M25606 98302h2422"/>
<path class="d" d="M24410 98302h1226"/>
<path class="a" d="M16038 99498h3618M41154 99498h13186M61486 99498h4814M94974 99498h7206"/>
<path class="b" d="M19626 99498h1226M26802 99498h14382M54310 99498h7206"/>
<path class="c" d="M20822 99498h6010"/>
<path class="a" d="M16038 100694h3618M26802 100694h4814M37566 100694h15578M60290 100694h6010M93778 100694h8402"/>
<path class="b" d="M19626 100694h2422M24410 100694h2422M32782 100694h4814M53114 100694h7206"/>
<path class="c" d="M22018 100694h2422"/>
<path class="f" d="M78230 100694h4814"/>
<path class="a" d="M16038 101890h3618M24410 101890h7206M37566 101890h15578M60290 101890h6010M93778 101890h8402"/>
<path class="b" d="M19626 101890h4814M32782 101890h4814M53114 101890h7206"/>
<path class="f" d="M78230 101890h4814"/>
</g>
<use href="#bd"/>
<path d="M513.5,484.5 528.2,529.8 575.8,529.8 537.3,557.7 552.0,603.0 513.5,575.0 475.0,603.0 489.7,557.7 451.2,529.8 498.8,529.8Z" fill="none" stroke="#514946" stroke-width="3.1" stroke-linejoin="miter"/>
</g>
</g>
<rect x="2565" y="1493" width="1018" height="1019.5" fill="none" stroke="#000" stroke-width="7.8"/>
<rect x="2656.6" y="1470.1" width="5.8" height="20"/>
<text x="2657.0" y="1447" text-anchor="middle" textLength="196" lengthAdjust="spacingAndGlyphs">107°30′E</text>
<rect x="2885.9" y="1470.1" width="5.8" height="20"/>
<text x="2886.3" y="1447" text-anchor="middle" textLength="196" lengthAdjust="spacingAndGlyphs">108°00′E</text>
<rect x="3115.2" y="1470.1" width="5.8" height="20"/>
<text x="3115.6" y="1447" text-anchor="middle" textLength="196" lengthAdjust="spacingAndGlyphs">108°30′E</text>
<rect x="3344.5" y="1470.1" width="5.8" height="20"/>
<text x="3344.9" y="1447" text-anchor="middle" textLength="196" lengthAdjust="spacingAndGlyphs">109°00′E</text>
<rect x="3573.7999999999997" y="1470.1" width="5.8" height="20"/>
<text x="3574.2" y="1447" text-anchor="middle" textLength="196" lengthAdjust="spacingAndGlyphs">109°30′E</text>
<rect x="2667.1" y="2515.4" width="5.8" height="20"/>
<text x="2672" y="2605.5" text-anchor="middle" textLength="196" lengthAdjust="spacingAndGlyphs">108°00′E</text>
<rect x="2884.1" y="2515.4" width="5.8" height="20"/>
<text x="2884" y="2605.5" text-anchor="middle" textLength="196" lengthAdjust="spacingAndGlyphs">108°10′E</text>
<rect x="3092.1" y="2515.4" width="5.8" height="20"/>
<text x="3096" y="2605.5" text-anchor="middle" textLength="196" lengthAdjust="spacingAndGlyphs">108°20′E</text>
<rect x="3307.1" y="2515.4" width="5.8" height="20"/>
<text x="3308" y="2605.5" text-anchor="middle" textLength="196" lengthAdjust="spacingAndGlyphs">108°30′E</text>
<rect x="3516.1" y="2515.4" width="5.8" height="20"/>
<text x="3520" y="2605.5" text-anchor="middle" textLength="196" lengthAdjust="spacingAndGlyphs">108°40′E</text>
<rect x="2542.1" y="1533.1" width="20" height="5.8"/>
<rect x="3585.9" y="1531.1" width="20" height="5.8"/>
<text x="3619" y="1555" text-anchor="start">23°10′N</text>
<rect x="2542.1" y="1760.6" width="20" height="5.8"/>
<rect x="3585.9" y="1757.1" width="20" height="5.8"/>
<text x="3619" y="1781" text-anchor="start">23°00′N</text>
<rect x="2542.1" y="1987.6" width="20" height="5.8"/>
<rect x="3585.9" y="1984.1" width="20" height="5.8"/>
<text x="3619" y="2008" text-anchor="start">22°50′N</text>
<rect x="2542.1" y="2215.6" width="20" height="5.8"/>
<rect x="3585.9" y="2213.1" width="20" height="5.8"/>
<text x="3619" y="2237" text-anchor="start">22°40′N</text>
<rect x="2542.1" y="2442.6" width="20" height="5.8"/>
<rect x="3585.9" y="2440.1" width="20" height="5.8"/>
<text x="3619" y="2464" text-anchor="start">22°30′N</text>
<text x="3074.0" y="1367" text-anchor="middle">(f)</text>
<rect x="3235" y="2452.8" width="217.5" height="21.7" fill="#fff" stroke="#000" stroke-width="4"/>
<rect x="3233" y="2450.8" width="114" height="25.7"/>
<text x="3221.6" y="2430.4" text-anchor="start">0</text>
<text x="3321.8" y="2430.4" text-anchor="start">10</text>
<text x="3422" y="2430.4" textLength="143.5" lengthAdjust="spacingAndGlyphs">20 km</text>
<line x1="904" y1="999" x2="1267" y2="1487" stroke="#222" stroke-width="2.2" stroke-dasharray="21 9"/>
<rect x="3835" y="320.2" width="33" height="113" fill="#464E4A"/>
<rect x="3835" y="432.0" width="33" height="113" fill="#A65496"/>
<rect x="3835" y="543.9" width="33" height="113" fill="#454B8C"/>
<rect x="3835" y="655.8" width="33" height="113" fill="#58ACDA"/>
<rect x="3835" y="767.6" width="33" height="113" fill="#867E36"/>
<rect x="3835" y="879.5" width="33" height="113" fill="#A0CD8C"/>
<rect x="3835" y="991.3" width="33" height="113" fill="#FFFFFF"/>
<rect x="3835" y="322" width="33" height="779" fill="none" stroke="#000" stroke-width="6"/>
<text x="3892" y="449.0" text-anchor="start">250</text>
<text x="3892" y="560.85" text-anchor="start">100</text>
<text x="3892" y="672.7" text-anchor="start">50</text>
<text x="3892" y="784.55" text-anchor="start">25</text>
<text x="3892" y="896.4" text-anchor="start">10</text>
<text x="3892" y="1008.25" text-anchor="start">0.1</text>
<rect x="3835" y="1629.7" width="33" height="65.5" fill="#7B2D28"/>
<rect x="3835" y="1694.5" width="33" height="65.5" fill="#C23B38"/>
<rect x="3835" y="1759.3" width="33" height="65.5" fill="#E96F3E"/>
<rect x="3835" y="1824.1" width="33" height="65.5" fill="#F4A14A"/>
<rect x="3835" y="1888.9" width="33" height="65.5" fill="#F5DC8F"/>
<rect x="3835" y="1953.7" width="33" height="65.5" fill="#FFFFFF"/>
<rect x="3835" y="2018.5" width="33" height="65.5" fill="#FFFFFF"/>
<rect x="3835" y="2083.3" width="33" height="65.5" fill="#D2E6EF"/>
<rect x="3835" y="2148.1" width="33" height="65.5" fill="#A3D0E5"/>
<rect x="3835" y="2212.9" width="33" height="65.5" fill="#6E9AC2"/>
<rect x="3835" y="2277.7" width="33" height="65.5" fill="#475693"/>
<rect x="3835" y="2342.5" width="33" height="65.5" fill="#3E2B4D"/>
<rect x="3835" y="1693.5" width="33" height="2" fill="#555" opacity="0.6"/>
<rect x="3835" y="1758.3" width="33" height="2" fill="#555" opacity="0.6"/>
<rect x="3835" y="1823.1" width="33" height="2" fill="#555" opacity="0.6"/>
<rect x="3835" y="1887.9" width="33" height="2" fill="#555" opacity="0.6"/>
<rect x="3835" y="1952.7" width="33" height="2" fill="#555" opacity="0.6"/>
<rect x="3835" y="2017.5" width="33" height="2" fill="#555" opacity="0.6"/>
<rect x="3835" y="2082.3" width="33" height="2" fill="#555" opacity="0.6"/>
<rect x="3835" y="2147.1" width="33" height="2" fill="#555" opacity="0.6"/>
<rect x="3835" y="2211.9" width="33" height="2" fill="#555" opacity="0.6"/>
<rect x="3835" y="2276.7" width="33" height="2" fill="#555" opacity="0.6"/>
<rect x="3835" y="2341.5" width="33" height="2" fill="#555" opacity="0.6"/>
<rect x="3835" y="1630" width="33" height="777.5" fill="none" stroke="#000" stroke-width="6"/>
<text x="3888" y="1713.5" text-anchor="start">40</text>
<text x="3888" y="1778.3" text-anchor="start">32</text>
<text x="3888" y="1843.1" text-anchor="start">24</text>
<text x="3888" y="1907.9" text-anchor="start">16</text>
<text x="3888" y="1972.7" text-anchor="start">8</text>
<text x="3888" y="2037.5" text-anchor="start">0</text>
<text x="3888" y="2102.3" text-anchor="start">-8</text>
<text x="3888" y="2167.1" text-anchor="start">-16</text>
<text x="3888" y="2231.9" text-anchor="start">-24</text>
<text x="3888" y="2296.7" text-anchor="start">-32</text>
<text x="3888" y="2361.5" text-anchor="start">-40</text>
<text x="3836" y="237" font-size="57.5" font-weight="bold" text-anchor="start" textLength="172" lengthAdjust="spacingAndGlyphs" style="font-family:'Liberation Serif','Noto Serif CJK SC',serif">降水量</text>
<text x="3836" y="1545" font-size="57.5" font-weight="bold" text-anchor="start" textLength="172" lengthAdjust="spacingAndGlyphs" style="font-family:'Liberation Serif','Noto Serif CJK SC',serif">降水量</text>
<text x="3833" y="303" text-anchor="start">/mm</text>
<text x="3833" y="1611" text-anchor="start">/mm</text>
</svg></body></html>
